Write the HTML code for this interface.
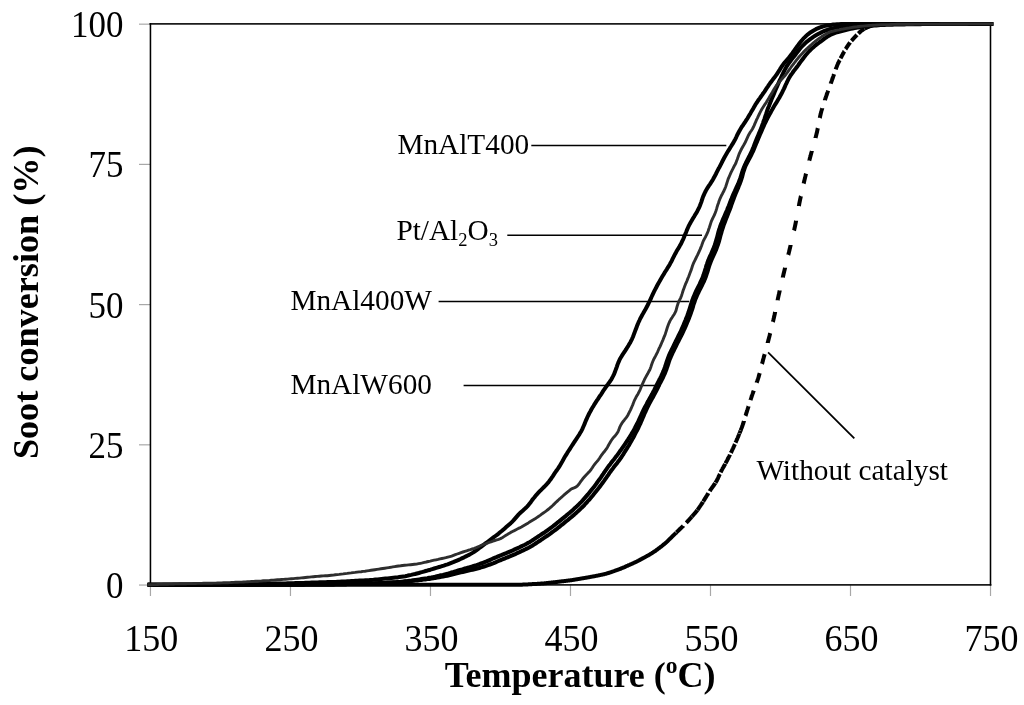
<!DOCTYPE html>
<html><head><meta charset="utf-8"><title>Soot conversion</title><style>html,body{margin:0;padding:0;background:#fff;width:1024px;height:705px;overflow:hidden}svg{display:block;filter:grayscale(100%)}</style></head><body>
<svg width="1024" height="705" viewBox="0 0 1024 705">
<rect width="1024" height="705" fill="#fff"/>
<g stroke="#a8a8a8" stroke-width="1.2"><line x1="139" y1="585.05" x2="150" y2="585.05"/><line x1="139" y1="444.83" x2="150" y2="444.83"/><line x1="139" y1="304.61" x2="150" y2="304.61"/><line x1="139" y1="164.39" x2="150" y2="164.39"/><line x1="139" y1="24.17" x2="150" y2="24.17"/><line x1="150.45" y1="585" x2="150.45" y2="596"/><line x1="290.46" y1="585" x2="290.46" y2="596"/><line x1="430.47" y1="585" x2="430.47" y2="596"/><line x1="570.48" y1="585" x2="570.48" y2="596"/><line x1="710.49" y1="585" x2="710.49" y2="596"/><line x1="850.50" y1="585" x2="850.50" y2="596"/><line x1="990.51" y1="585" x2="990.51" y2="596"/></g>
<g fill="none" stroke-linecap="square"><line x1="150.45" y1="23.86" x2="990.5" y2="23.86" stroke="#1c1c1c" stroke-width="1.75"/><line x1="150.45" y1="584.75" x2="990.5" y2="584.75" stroke="#1c1c1c" stroke-width="1.75"/><line x1="150.45" y1="23.86" x2="150.45" y2="584.75" stroke="#000" stroke-width="1.55"/><line x1="990.5" y1="23.86" x2="990.5" y2="584.75" stroke="#000" stroke-width="1.55"/></g>
<g stroke="#000" stroke-width="1.55" fill="none"><line x1="531.3" y1="145.55" x2="726.3" y2="145.55"/><line x1="507.3" y1="235.2" x2="702" y2="235.2"/><line x1="438.6" y1="301.4" x2="689.3" y2="301.4"/><line x1="463.6" y1="385.5" x2="660.8" y2="385.5"/><line x1="768.1" y1="352.3" x2="854.3" y2="438.3" stroke-width="1.75"/></g>
<g fill="none" stroke-linejoin="round" stroke-linecap="butt" stroke="#000" stroke-width="4.0">
<path d="M147.6,584.8 L148.1,584.8 L148.6,584.8 L149.1,584.8 L149.6,584.8 L150.1,584.8 L150.6,584.8 L151.1,584.8 L151.6,584.8 L152.1,584.8 L152.6,584.8 L153.1,584.8 L153.6,584.8 L154.1,584.8 L154.6,584.8 L155.1,584.8 L155.6,584.8 L156.1,584.8 L156.6,584.8 L157.1,584.8 L157.6,584.8 L158.1,584.8 L158.6,584.8 L159.1,584.8 L159.6,584.8 L160.1,584.8 L160.6,584.8 L161.1,584.8 L161.6,584.8 L162.1,584.8 L162.6,584.8 L163.1,584.8 L163.6,584.8 L164.1,584.8 L164.6,584.8 L165.1,584.8 L165.6,584.8 L166.1,584.8 L166.6,584.8 L167.1,584.8 L167.6,584.8 L168.1,584.8 L168.6,584.8 L169.1,584.8 L169.6,584.8 L170.1,584.8 L170.6,584.8 L171.1,584.8 L171.6,584.8 L172.1,584.8 L172.6,584.8 L173.1,584.8 L173.6,584.8 L174.1,584.8 L174.6,584.8 L175.1,584.8 L175.6,584.8 L176.1,584.8 L176.6,584.8 L177.1,584.8 L177.6,584.8 L178.1,584.8 L178.6,584.8 L179.1,584.8 L179.6,584.8 L180.1,584.8 L180.6,584.8 L181.1,584.8 L181.6,584.8 L182.1,584.8 L182.6,584.8 L183.1,584.8 L183.6,584.8 L184.1,584.8 L184.6,584.8 L185.1,584.8 L185.6,584.8 L186.1,584.8 L186.6,584.8 L187.1,584.8 L187.6,584.8 L188.1,584.8 L188.6,584.8 L189.1,584.8 L189.6,584.8 L190.1,584.8 L190.6,584.8 L191.1,584.8 L191.6,584.8 L192.1,584.8 L192.6,584.8 L193.1,584.8 L193.6,584.8 L194.1,584.8 L194.6,584.8 L195.1,584.8 L195.6,584.8 L196.1,584.8 L196.6,584.8 L197.1,584.8 L197.6,584.8 L198.1,584.8 L198.6,584.8 L199.1,584.8 L199.6,584.8 L200.1,584.8 L200.6,584.8 L201.1,584.8 L201.6,584.8 L202.1,584.8 L202.6,584.8 L203.1,584.8 L203.6,584.8 L204.1,584.8 L204.6,584.8 L205.1,584.8 L205.6,584.8 L206.1,584.8 L206.6,584.8 L207.1,584.8 L207.6,584.8 L208.1,584.8 L208.6,584.8 L209.1,584.8 L209.6,584.8 L210.1,584.8 L210.6,584.8 L211.1,584.8 L211.6,584.8 L212.1,584.8 L212.6,584.8 L213.1,584.8 L213.6,584.8 L214.1,584.8 L214.6,584.8 L215.1,584.8 L215.6,584.8 L216.1,584.8 L216.6,584.8 L217.1,584.8 L217.6,584.8 L218.1,584.8 L218.6,584.8 L219.1,584.8 L219.6,584.8 L220.1,584.8 L220.6,584.8 L221.1,584.8 L221.6,584.8 L222.1,584.8 L222.6,584.8 L223.1,584.8 L223.6,584.8 L224.1,584.8 L224.6,584.8 L225.1,584.8 L225.6,584.8 L226.1,584.8 L226.6,584.8 L227.1,584.8 L227.6,584.8 L228.1,584.8 L228.6,584.8 L229.1,584.8 L229.6,584.8 L230.1,584.8 L230.6,584.8 L231.1,584.8 L231.6,584.8 L232.1,584.8 L232.6,584.8 L233.1,584.8 L233.6,584.8 L234.1,584.8 L234.6,584.8 L235.1,584.8 L235.6,584.8 L236.1,584.8 L236.6,584.8 L237.1,584.8 L237.6,584.8 L238.1,584.8 L238.6,584.8 L239.1,584.8 L239.6,584.8 L240.1,584.8 L240.6,584.8 L241.1,584.8 L241.6,584.8 L242.1,584.8 L242.6,584.8 L243.1,584.8 L243.6,584.8 L244.1,584.8 L244.6,584.8 L245.1,584.8 L245.6,584.8 L246.1,584.8 L246.6,584.8 L247.1,584.8 L247.6,584.8 L248.1,584.8 L248.6,584.8 L249.1,584.8 L249.6,584.8 L250.1,584.8 L250.6,584.8 L251.1,584.8 L251.6,584.8 L252.1,584.8 L252.6,584.8 L253.1,584.8 L253.6,584.8 L254.1,584.8 L254.6,584.8 L255.1,584.8 L255.6,584.8 L256.1,584.8 L256.6,584.8 L257.1,584.8 L257.6,584.8 L258.1,584.8 L258.6,584.8 L259.1,584.8 L259.6,584.8 L260.1,584.8 L260.6,584.8 L261.1,584.8 L261.6,584.8 L262.1,584.8 L262.6,584.8 L263.1,584.8 L263.6,584.8 L264.1,584.8 L264.6,584.8 L265.1,584.8 L265.6,584.8 L266.1,584.8 L266.6,584.8 L267.1,584.8 L267.6,584.8 L268.1,584.8 L268.6,584.8 L269.1,584.8 L269.6,584.8 L270.1,584.8 L270.6,584.8 L271.1,584.8 L271.6,584.8 L272.1,584.8 L272.6,584.8 L273.1,584.8 L273.6,584.8 L274.1,584.8 L274.6,584.8 L275.1,584.8 L275.6,584.8 L276.1,584.8 L276.6,584.8 L277.1,584.8 L277.6,584.8 L278.1,584.8 L278.6,584.8 L279.1,584.8 L279.6,584.8 L280.1,584.8 L280.6,584.8 L281.1,584.8 L281.6,584.8 L282.1,584.8 L282.6,584.8 L283.1,584.8 L283.6,584.8 L284.1,584.8 L284.6,584.8 L285.1,584.8 L285.6,584.8 L286.1,584.8 L286.6,584.8 L287.1,584.8 L287.6,584.8 L288.1,584.8 L288.6,584.8 L289.1,584.8 L289.6,584.8 L290.1,584.8 L290.6,584.8 L291.1,584.8 L291.6,584.8 L292.1,584.8 L292.6,584.8 L293.1,584.8 L293.6,584.8 L294.1,584.8 L294.6,584.8 L295.1,584.8 L295.6,584.8 L296.1,584.8 L296.6,584.8 L297.1,584.8 L297.6,584.8 L298.1,584.8 L298.6,584.8 L299.1,584.8 L299.6,584.8 L300.1,584.8 L300.6,584.8 L301.1,584.8 L301.6,584.8 L302.1,584.8 L302.6,584.8 L303.1,584.8 L303.6,584.8 L304.1,584.8 L304.6,584.8 L305.1,584.8 L305.6,584.8 L306.1,584.8 L306.6,584.8 L307.1,584.8 L307.6,584.8 L308.1,584.8 L308.6,584.8 L309.1,584.8 L309.6,584.8 L310.1,584.8 L310.6,584.8 L311.1,584.8 L311.6,584.8 L312.1,584.8 L312.6,584.8 L313.1,584.8 L313.6,584.8 L314.1,584.8 L314.6,584.8 L315.1,584.8 L315.6,584.8 L316.1,584.8 L316.6,584.8 L317.1,584.8 L317.6,584.8 L318.1,584.8 L318.6,584.8 L319.1,584.8 L319.6,584.8 L320.1,584.8 L320.6,584.8 L321.1,584.8 L321.6,584.8 L322.1,584.8 L322.6,584.8 L323.1,584.8 L323.6,584.8 L324.1,584.8 L324.6,584.8 L325.1,584.8 L325.6,584.8 L326.1,584.8 L326.6,584.8 L327.1,584.8 L327.6,584.8 L328.1,584.8 L328.6,584.8 L329.1,584.8 L329.6,584.8 L330.1,584.8 L330.6,584.8 L331.1,584.8 L331.6,584.8 L332.1,584.8 L332.6,584.8 L333.1,584.8 L333.6,584.8 L334.1,584.8 L334.6,584.8 L335.1,584.8 L335.6,584.8 L336.1,584.8 L336.6,584.8 L337.1,584.8 L337.6,584.8 L338.1,584.8 L338.6,584.8 L339.1,584.8 L339.6,584.8 L340.1,584.8 L340.6,584.8 L341.1,584.8 L341.6,584.8 L342.1,584.8 L342.6,584.8 L343.1,584.8 L343.6,584.8 L344.1,584.8 L344.6,584.8 L345.1,584.8 L345.6,584.8 L346.1,584.8 L346.6,584.8 L347.1,584.8 L347.6,584.8 L348.1,584.8 L348.6,584.8 L349.1,584.8 L349.6,584.8 L350.1,584.8 L350.6,584.8 L351.1,584.8 L351.6,584.8 L352.1,584.8 L352.6,584.8 L353.1,584.8 L353.6,584.8 L354.1,584.8 L354.6,584.8 L355.1,584.8 L355.6,584.8 L356.1,584.8 L356.6,584.8 L357.1,584.8 L357.6,584.8 L358.1,584.8 L358.6,584.8 L359.1,584.8 L359.6,584.8 L360.1,584.8 L360.6,584.8 L361.1,584.8 L361.6,584.8 L362.1,584.8 L362.6,584.8 L363.1,584.8 L363.6,584.8 L364.1,584.8 L364.6,584.8 L365.1,584.8 L365.6,584.8 L366.1,584.8 L366.6,584.8 L367.1,584.8 L367.6,584.8 L368.1,584.8 L368.6,584.8 L369.1,584.8 L369.6,584.8 L370.1,584.8 L370.6,584.8 L371.1,584.8 L371.6,584.8 L372.1,584.8 L372.6,584.8 L373.1,584.8 L373.6,584.8 L374.1,584.8 L374.6,584.8 L375.1,584.8 L375.6,584.8 L376.1,584.8 L376.6,584.8 L377.1,584.8 L377.6,584.8 L378.1,584.8 L378.6,584.8 L379.1,584.8 L379.6,584.8 L380.1,584.8 L380.6,584.8 L381.1,584.8 L381.6,584.8 L382.1,584.8 L382.6,584.8 L383.1,584.8 L383.6,584.8 L384.1,584.8 L384.6,584.8 L385.1,584.8 L385.6,584.8 L386.1,584.8 L386.6,584.8 L387.1,584.8 L387.6,584.8 L388.1,584.8 L388.6,584.8 L389.1,584.8 L389.6,584.8 L390.1,584.8 L390.6,584.8 L391.1,584.8 L391.6,584.8 L392.1,584.8 L392.6,584.8 L393.1,584.8 L393.6,584.8 L394.1,584.8 L394.6,584.8 L395.1,584.8 L395.6,584.8 L396.1,584.8 L396.6,584.8 L397.1,584.8 L397.6,584.8 L398.1,584.8 L398.6,584.8 L399.1,584.8 L399.6,584.8 L400.1,584.8 L400.6,584.8 L401.1,584.8 L401.6,584.8 L402.1,584.8 L402.6,584.8 L403.1,584.8 L403.6,584.8 L404.1,584.8 L404.6,584.8 L405.1,584.8 L405.6,584.8 L406.1,584.8 L406.6,584.8 L407.1,584.8 L407.6,584.8 L408.1,584.8 L408.6,584.8 L409.1,584.8 L409.6,584.8 L410.1,584.8 L410.6,584.8 L411.1,584.8 L411.6,584.8 L412.1,584.8 L412.6,584.8 L413.1,584.8 L413.6,584.8 L414.1,584.8 L414.6,584.8 L415.1,584.8 L415.6,584.8 L416.1,584.8 L416.6,584.8 L417.1,584.8 L417.6,584.8 L418.1,584.8 L418.6,584.8 L419.1,584.8 L419.6,584.8 L420.1,584.8 L420.6,584.8 L421.1,584.8 L421.6,584.8 L422.1,584.8 L422.6,584.8 L423.1,584.8 L423.6,584.8 L424.1,584.8 L424.6,584.8 L425.1,584.8 L425.6,584.8 L426.1,584.8 L426.6,584.8 L427.1,584.8 L427.6,584.8 L428.1,584.8 L428.6,584.8 L429.1,584.8 L429.6,584.8 L430.1,584.8 L430.6,584.8 L431.1,584.8 L431.6,584.8 L432.1,584.8 L432.6,584.8 L433.1,584.8 L433.6,584.8 L434.1,584.8 L434.6,584.8 L435.1,584.8 L435.6,584.8 L436.1,584.8 L436.6,584.8 L437.1,584.8 L437.6,584.8 L438.1,584.8 L438.6,584.8 L439.1,584.8 L439.6,584.8 L440.1,584.8 L440.6,584.8 L441.1,584.8 L441.6,584.8 L442.1,584.8 L442.6,584.8 L443.1,584.8 L443.6,584.8 L444.1,584.8 L444.6,584.8 L445.1,584.8 L445.6,584.8 L446.1,584.8 L446.6,584.8 L447.1,584.8 L447.6,584.8 L448.1,584.8 L448.6,584.8 L449.1,584.8 L449.6,584.8 L450.1,584.8 L450.6,584.8 L451.1,584.8 L451.6,584.8 L452.1,584.8 L452.6,584.8 L453.1,584.8 L453.6,584.8 L454.1,584.8 L454.6,584.8 L455.1,584.8 L455.6,584.8 L456.1,584.8 L456.6,584.8 L457.1,584.8 L457.6,584.8 L458.1,584.8 L458.6,584.8 L459.1,584.8 L459.6,584.8 L460.1,584.8 L460.6,584.8 L461.1,584.8 L461.6,584.8 L462.1,584.8 L462.6,584.8 L463.1,584.8 L463.6,584.8 L464.1,584.8 L464.6,584.8 L465.1,584.8 L465.6,584.8 L466.1,584.8 L466.6,584.8 L467.1,584.8 L467.6,584.8 L468.1,584.8 L468.6,584.8 L469.1,584.8 L469.6,584.8 L470.1,584.8 L470.6,584.8 L471.1,584.8 L471.6,584.8 L472.1,584.8 L472.6,584.8 L473.1,584.8 L473.6,584.8 L474.1,584.8 L474.6,584.8 L475.1,584.8 L475.6,584.8 L476.1,584.8 L476.6,584.8 L477.1,584.8 L477.6,584.8 L478.1,584.8 L478.6,584.8 L479.1,584.8 L479.6,584.8 L480.1,584.8 L480.6,584.8 L481.1,584.8 L481.6,584.8 L482.1,584.8 L482.6,584.8 L483.1,584.8 L483.6,584.8 L484.1,584.8 L484.6,584.8 L485.1,584.8 L485.6,584.8 L486.1,584.8 L486.6,584.8 L487.1,584.8 L487.6,584.8 L488.1,584.8 L488.6,584.8 L489.1,584.8 L489.6,584.8 L490.1,584.8 L490.6,584.8 L491.1,584.8 L491.6,584.8 L492.1,584.8 L492.6,584.8 L493.1,584.8 L493.6,584.8 L494.1,584.8 L494.6,584.8 L495.1,584.8 L495.6,584.8 L496.1,584.8 L496.6,584.8 L497.1,584.8 L497.6,584.8 L498.1,584.8 L498.6,584.8 L499.1,584.8 L499.6,584.8 L500.1,584.8 L500.6,584.8 L501.1,584.8 L501.6,584.8 L502.1,584.8 L502.6,584.8 L503.1,584.8 L503.6,584.8 L504.1,584.8 L504.6,584.8 L505.1,584.8 L505.6,584.8 L506.1,584.8 L506.6,584.8 L507.1,584.8 L507.6,584.8 L508.1,584.8 L508.6,584.8 L509.1,584.8 L509.6,584.8 L510.1,584.8 L510.6,584.8 L511.1,584.8 L511.6,584.8 L512.1,584.8 L512.6,584.8 L513.1,584.8 L513.6,584.8 L514.1,584.8 L514.6,584.8 L515.1,584.8 L515.6,584.8 L516.1,584.8 L516.6,584.8 L517.1,584.8 L517.6,584.8 L518.1,584.8 L518.6,584.8 L519.1,584.8 L519.6,584.7 L520.1,584.7 L520.6,584.7 L521.1,584.7 L521.6,584.7 L522.1,584.7 L522.6,584.6 L523.1,584.6 L523.6,584.6 L524.1,584.6 L524.6,584.5 L525.1,584.5 L525.6,584.5 L526.1,584.5 L526.6,584.4 L527.1,584.4 L527.6,584.4 L528.1,584.4 L528.6,584.3 L529.1,584.3 L529.6,584.3 L530.1,584.2 L530.6,584.2 L531.1,584.2 L531.6,584.2 L532.1,584.1 L532.6,584.1 L533.1,584.1 L533.6,584.0 L534.1,584.0 L534.6,584.0 L535.1,584.0 L535.6,583.9 L536.1,583.9 L536.6,583.9 L537.1,583.9 L537.6,583.8 L538.1,583.8 L538.6,583.8 L539.1,583.7 L539.6,583.7 L540.1,583.7 L540.6,583.6 L541.1,583.6 L541.6,583.6 L542.1,583.5 L542.6,583.5 L543.1,583.5 L543.6,583.4 L544.1,583.4 L544.6,583.3 L545.1,583.3 L545.5,583.2 L546.0,583.2 L546.5,583.1 L547.0,583.1 L547.5,583.0 L548.0,583.0 L548.5,582.9 L549.0,582.8 L549.5,582.8 L550.0,582.7 L550.5,582.7 L551.0,582.6 L551.5,582.6 L552.0,582.5 L552.5,582.4 L553.0,582.4 L553.5,582.3 L554.0,582.3 L554.5,582.2 L555.0,582.2 L555.5,582.1 L556.0,582.0 L556.5,582.0 L557.0,581.9 L557.5,581.9 L558.0,581.8 L558.5,581.8 L559.0,581.7 L559.5,581.6 L560.0,581.6 L560.4,581.5 L560.9,581.5 L561.4,581.4 L561.9,581.3 L562.4,581.3 L562.9,581.2 L563.4,581.2 L563.9,581.1 L564.4,581.1 L564.9,581.0 L565.4,580.9 L565.9,580.9 L566.4,580.8 L566.9,580.8 L567.4,580.7 L567.9,580.6 L568.4,580.6 L568.9,580.5 L569.4,580.4 L569.9,580.4 L570.4,580.3 L570.9,580.2 L571.4,580.2 L571.9,580.1 L572.4,580.0 L572.8,580.0 L573.3,579.9 L573.8,579.8 L574.3,579.7 L574.8,579.6 L575.3,579.6 L575.8,579.5 L576.3,579.4 L576.8,579.3 L577.3,579.2 L577.8,579.1 L578.3,579.1 L578.8,579.0 L579.3,578.9 L579.8,578.8 L580.2,578.7 L580.7,578.6 L581.2,578.6 L581.7,578.5 L582.2,578.4 L582.7,578.3 L583.2,578.2 L583.7,578.1 L584.2,578.0 L584.7,578.0 L585.2,577.9 L585.7,577.8 L586.2,577.7 L586.7,577.6 L587.1,577.5 L587.6,577.4 L588.1,577.4 L588.6,577.3 L589.1,577.2 L589.6,577.1 L590.1,577.0 L590.6,576.9 L591.1,576.8 L591.6,576.7 L592.1,576.6 L592.6,576.5 L593.0,576.5 L593.5,576.4 L594.0,576.3 L594.5,576.2 L595.0,576.1 L595.5,576.0 L596.0,575.9 L596.5,575.8 L597.0,575.7 L597.5,575.6 L598.0,575.5 L598.4,575.4 L598.9,575.3 L599.4,575.2 L599.9,575.1 L600.4,575.0 L600.9,574.9 L601.4,574.8 L601.9,574.7 L602.4,574.6 L602.8,574.5 L603.3,574.4 L603.8,574.3 L604.3,574.2 L604.8,574.0 L605.3,573.9 L605.8,573.8 L606.2,573.7 L606.7,573.5 L607.2,573.4 L607.7,573.2 L608.2,573.1 L608.6,572.9 L609.1,572.8 L609.6,572.6 L610.0,572.5 L610.5,572.3 L611.0,572.1 L611.5,572.0 L611.9,571.8 L612.4,571.6 L612.9,571.5 L613.4,571.3 L613.8,571.1 L614.3,571.0 L614.8,570.8 L615.2,570.6 L615.7,570.5 L616.2,570.3 L616.7,570.1 L617.1,570.0 L617.6,569.8 L618.1,569.6 L618.5,569.5 L619.0,569.3 L619.5,569.1 L619.9,568.9 L620.4,568.8 L620.9,568.6 L621.3,568.4 L621.8,568.2 L622.3,568.0 L622.7,567.8 L623.2,567.6 L623.6,567.4 L624.1,567.3 L624.6,567.1 L625.0,566.9 L625.5,566.7 L625.9,566.4 L626.4,566.2 L626.9,566.0 L627.3,565.8 L627.8,565.6 L628.2,565.4 L628.7,565.2 L629.1,565.0 L629.6,564.8 L630.0,564.6 L630.5,564.4 L631.0,564.2 L631.4,564.0 L631.9,563.8 L632.3,563.6 L632.8,563.4 L633.2,563.2 L633.7,563.0 L634.1,562.8 L634.6,562.5 L635.0,562.3 L635.5,562.1 L636.0,561.9 L636.4,561.7 L636.8,561.5 L637.3,561.2 L637.7,561.0 L638.2,560.8 L638.6,560.6 L639.1,560.3 L639.5,560.1 L640.0,559.9 L640.4,559.6 L640.8,559.4 L641.3,559.1 L641.7,558.9 L642.2,558.7 L642.6,558.4 L643.0,558.2 L643.5,557.9 L643.9,557.7 L644.3,557.5 L644.8,557.2 L645.2,557.0 L645.7,556.7 L646.1,556.5 L646.5,556.3 L647.0,556.0 L647.4,555.8 L647.8,555.5 L648.3,555.3 L648.7,555.0 L649.2,554.8 L649.6,554.5 L650.0,554.3 L650.5,554.0 L650.9,553.8 L651.3,553.5 L651.7,553.3 L652.2,553.0 L652.6,552.7 L653.0,552.5 L653.4,552.2 L653.8,551.9 L654.2,551.6 L654.6,551.3 L655.1,551.1 L655.5,550.8 L655.9,550.5 L656.3,550.2 L656.7,549.9 L657.1,549.6 L657.5,549.3 L657.9,549.0 L658.3,548.7 L658.7,548.4 L659.1,548.1 L659.5,547.8 L659.9,547.5 L660.3,547.2 L660.7,546.9 L661.1,546.6 L661.5,546.3 L661.9,546.0 L662.3,545.7 L662.6,545.4 L663.0,545.1 L663.4,544.7 L663.8,544.4 L664.2,544.1 L664.6,543.8 L665.0,543.5 L665.3,543.1 L665.7,542.8 L666.1,542.5 L666.5,542.1 L666.8,541.8 L667.2,541.5 L667.6,541.1 L667.9,540.8 L668.3,540.4 L668.6,540.1 L669.0,539.7 L669.3,539.4 L669.7,539.0 L670.1,538.7 L670.4,538.3 L670.8,538.0 L671.1,537.6 L671.5,537.3 L671.8,536.9 L672.2,536.6 L672.5,536.2 L672.9,535.9 L673.3,535.5 L673.6,535.2 L674.0,534.8 L674.3,534.5 L674.7,534.1 L675.0,533.8 L675.4,533.4 L675.8,533.1 L676.1,532.7 L676.1,532.7"/>
<path d="M676.3,532.5 L676.5,532.4 L676.7,532.2 L676.8,532.0 L677.0,531.8 L677.2,531.7 L677.4,531.5 L677.6,531.3 L677.7,531.2 L677.9,531.0 L678.1,530.8 L678.3,530.6 L678.5,530.5 L678.6,530.3 L678.8,530.1 L679.0,529.9 L679.2,529.8 L679.4,529.6 L679.5,529.4 L679.7,529.3 L679.9,529.1 L680.1,528.9 L680.3,528.7 L680.5,528.6 L680.6,528.4 L680.8,528.2 L681.0,528.1 L681.2,527.9 L681.4,527.7 L681.5,527.5 L681.7,527.4 L681.9,527.2 L682.1,527.0 L682.3,526.8 L682.4,526.7 L682.6,526.5 L682.8,526.3 L683.0,526.2 L683.2,526.0 L683.3,525.8"/><path d="M686.3,522.8 L686.5,522.6 L686.7,522.4 L686.8,522.2 L687.0,522.1 L687.2,521.9 L687.3,521.7 L687.5,521.5 L687.7,521.3 L687.9,521.1 L688.0,520.9 L688.2,520.8 L688.4,520.6 L688.5,520.4 L688.7,520.2 L688.9,520.0 L689.0,519.8 L689.2,519.6 L689.4,519.5 L689.5,519.3 L689.7,519.1 L689.9,518.9 L690.0,518.7 L690.2,518.5 L690.4,518.3 L690.5,518.2 L690.7,518.0 L690.9,517.8 L691.0,517.6 L691.2,517.4 L691.4,517.2 L691.5,517.0 L691.7,516.9 L691.9,516.7"/><path d="M692.0,516.5 L692.2,516.3 L692.4,516.1 L692.5,515.9 L692.7,515.7 L692.9,515.5 L693.0,515.4 L693.2,515.2 L693.3,515.0 L693.5,514.8 L693.7,514.6 L693.8,514.4 L694.0,514.2 L694.2,514.0 L694.3,513.9 L694.5,513.7 L694.7,513.5 L694.8,513.3 L695.0,513.1 L695.1,512.9 L695.3,512.7 L695.5,512.5 L695.6,512.3 L695.8,512.1 L695.9,511.9 L696.1,511.7 L696.3,511.6 L696.4,511.4 L696.6,511.2 L696.7,511.0 L696.9,510.8 L697.0,510.6 L697.2,510.4 L697.3,510.2"/><path d="M697.5,510.0 L697.6,509.8 L697.8,509.6 L697.9,509.4 L698.1,509.2 L698.2,509.0 L698.4,508.8 L698.5,508.6 L698.6,508.4 L698.8,508.1 L698.9,507.9 L699.1,507.7 L699.2,507.5 L699.3,507.3 L699.5,507.1 L699.6,506.9 L699.8,506.7 L699.9,506.5 L700.0,506.3 L700.2,506.1 L700.3,505.9 L700.5,505.7 L700.6,505.5 L700.7,505.3 L700.9,505.0 L701.0,504.8 L701.2,504.6 L701.3,504.4 L701.4,504.2 L701.6,504.0 L701.7,503.8 L701.8,503.6 L702.0,503.4 L702.1,503.2 L702.3,503.0 L702.4,502.7 L702.5,502.5 L702.7,502.3 L702.8,502.1 L702.9,501.9"/><path d="M703.2,501.5 L703.3,501.3 L703.5,501.1 L703.6,500.8 L703.7,500.6 L703.9,500.4 L704.0,500.2 L704.1,500.0 L704.3,499.8 L704.4,499.6 L704.5,499.4 L704.7,499.1 L704.8,498.9 L704.9,498.7 L705.0,498.5 L705.2,498.3 L705.3,498.1 L705.4,497.9 L705.6,497.7 L705.7,497.4 L705.8,497.2 L706.0,497.0 L706.1,496.8 L706.2,496.6 L706.4,496.4 L706.5,496.2 L706.6,496.0 L706.8,495.7 L706.9,495.5 L707.0,495.3 L707.1,495.1 L707.3,494.9 L707.4,494.7 L707.5,494.5 L707.7,494.3 L707.8,494.0 L707.9,493.8 L708.1,493.6 L708.2,493.4 L708.3,493.2"/><path d="M709.7,491.1 L709.8,490.9 L710.0,490.7 L710.1,490.5 L710.3,490.3 L710.4,490.1 L710.5,489.9 L710.7,489.7 L710.8,489.4 L711.0,489.2 L711.1,489.0 L711.2,488.8 L711.4,488.6 L711.5,488.4 L711.7,488.2 L711.8,488.0 L712.0,487.8 L712.1,487.6 L712.3,487.4 L712.4,487.2 L712.5,487.0 L712.7,486.8 L712.8,486.6 L713.0,486.4 L713.1,486.2 L713.3,486.0 L713.4,485.8 L713.6,485.6 L713.7,485.4 L713.8,485.2 L714.0,485.0 L714.1,484.7 L714.3,484.5 L714.4,484.3 L714.6,484.1 L714.7,483.9 L714.8,483.7 L715.0,483.5 L715.1,483.3 L715.2,483.1"/><path d="M715.5,482.7 L715.6,482.5 L715.8,482.3 L715.9,482.0 L716.0,481.8 L716.2,481.6 L716.3,481.4 L716.4,481.2 L716.5,481.0 L716.7,480.8 L716.8,480.5 L716.9,480.3 L717.0,480.1 L717.1,479.9 L717.2,479.7 L717.4,479.4 L717.5,479.2 L717.6,479.0 L717.7,478.8 L717.8,478.5 L717.9,478.3 L718.0,478.1 L718.1,477.9 L718.2,477.6 L718.3,477.4 L718.4,477.2 L718.5,477.0 L718.6,476.7 L718.7,476.5 L718.8,476.3 L718.9,476.0 L719.0,475.8 L719.1,475.6 L719.2,475.4 L719.3,475.1 L719.4,474.9 L719.6,474.7 L719.7,474.4 L719.8,474.2 L719.9,474.0"/><path d="M720.6,472.4 L720.7,472.2 L720.8,472.0 L720.9,471.7 L721.0,471.5 L721.1,471.3 L721.3,471.1 L721.4,470.8 L721.5,470.6 L721.6,470.4 L721.7,470.2 L721.8,470.0 L722.0,469.7 L722.1,469.5 L722.2,469.3 L722.3,469.1 L722.4,468.9 L722.5,468.6 L722.7,468.4 L722.8,468.2 L722.9,468.0 L723.0,467.8 L723.2,467.5 L723.3,467.3 L723.4,467.1 L723.5,466.9 L723.6,466.7 L723.8,466.5 L723.9,466.2 L724.0,466.0 L724.1,465.8 L724.3,465.6 L724.4,465.4 L724.5,465.1 L724.6,464.9 L724.7,464.7 L724.9,464.5 L725.0,464.3 L725.1,464.1 L725.2,463.8"/><path d="M725.5,463.4 L725.6,463.2 L725.7,463.0 L725.8,462.7 L726.0,462.5 L726.1,462.3 L726.2,462.1 L726.3,461.9 L726.4,461.7 L726.6,461.4 L726.7,461.2 L726.8,461.0 L726.9,460.8 L727.0,460.5 L727.1,460.3 L727.3,460.1 L727.4,459.9 L727.5,459.7 L727.6,459.4 L727.7,459.2 L727.8,459.0 L727.9,458.8 L728.0,458.5 L728.2,458.3 L728.3,458.1 L728.4,457.9 L728.5,457.7 L728.6,457.4 L728.7,457.2 L728.8,457.0 L728.9,456.8 L729.1,456.5 L729.2,456.3 L729.3,456.1 L729.4,455.9 L729.5,455.6 L729.6,455.4 L729.7,455.2 L729.8,455.0 L729.9,454.7"/><path d="M730.8,452.9 L730.9,452.7 L731.0,452.5 L731.2,452.3 L731.3,452.0 L731.4,451.8 L731.5,451.6 L731.6,451.4 L731.7,451.1 L731.8,450.9 L731.9,450.7 L732.0,450.5 L732.1,450.2 L732.2,450.0 L732.3,449.8 L732.4,449.6 L732.5,449.3 L732.7,449.1 L732.8,448.9 L732.9,448.7 L733.0,448.4 L733.1,448.2 L733.2,448.0 L733.3,447.7 L733.4,447.5 L733.5,447.3 L733.6,447.1 L733.7,446.8 L733.8,446.6 L733.9,446.4 L734.0,446.1 L734.1,445.9 L734.2,445.7 L734.3,445.5 L734.4,445.2 L734.5,445.0 L734.6,444.8 L734.7,444.5 L734.8,444.3 L734.9,444.1"/><path d="M735.5,442.7 L735.6,442.5 L735.7,442.3 L735.8,442.0 L735.9,441.8 L736.0,441.6 L736.1,441.3 L736.2,441.1 L736.3,440.9 L736.4,440.7 L736.5,440.4 L736.6,440.2 L736.7,440.0 L736.8,439.7 L736.9,439.5 L737.0,439.3 L737.1,439.0 L737.2,438.8 L737.3,438.6 L737.4,438.4 L737.5,438.1 L737.6,437.9 L737.7,437.7 L737.8,437.4 L737.9,437.2 L738.0,437.0 L738.1,436.7 L738.2,436.5 L738.3,436.3 L738.4,436.1 L738.5,435.8 L738.5,435.6 L738.6,435.4 L738.7,435.1 L738.8,434.9 L738.9,434.7 L739.0,434.4 L739.1,434.2 L739.2,434.0 L739.3,433.7"/><path d="M739.5,433.3 L739.6,433.0 L739.7,432.8 L739.8,432.6 L739.9,432.4 L740.0,432.1 L740.1,431.9 L740.1,431.7 L740.2,431.4 L740.3,431.2 L740.4,431.0 L740.5,430.7"/><path d="M740.6,430.5 L740.7,430.3 L740.8,430.0 L740.9,429.8 L741.0,429.6 L741.1,429.3 L741.2,429.1 L741.2,428.9 L741.3,428.6 L741.4,428.4 L741.5,428.2 L741.6,427.9 L741.7,427.7 L741.8,427.5 L741.9,427.2 L742.0,427.0 L742.0,426.8 L742.1,426.5 L742.2,426.3 L742.3,426.1 L742.4,425.8 L742.5,425.6 L742.5,425.4 L742.6,425.1 L742.7,424.9 L742.8,424.6 L742.9,424.4 L742.9,424.2 L743.0,423.9 L743.1,423.7 L743.2,423.5 L743.3,423.2 L743.3,423.0 L743.4,422.7 L743.5,422.5 L743.6,422.3 L743.6,422.0 L743.7,421.8 L743.8,421.5 L743.9,421.3 L743.9,421.1"/><path d="M745.5,415.8 L745.6,415.6 L745.7,415.3 L745.8,415.1 L745.8,414.9 L745.9,414.6 L746.0,414.4 L746.0,414.1 L746.1,413.9 L746.2,413.7 L746.3,413.4 L746.3,413.2 L746.4,412.9 L746.5,412.7 L746.6,412.5 L746.6,412.2 L746.7,412.0 L746.8,411.7 L746.9,411.5 L746.9,411.3 L747.0,411.0 L747.1,410.8 L747.2,410.6 L747.2,410.3 L747.3,410.1 L747.4,409.8 L747.5,409.6 L747.5,409.4 L747.6,409.1 L747.7,408.9 L747.8,408.6 L747.8,408.4 L747.9,408.2 L748.0,407.9 L748.1,407.7 L748.1,407.5 L748.2,407.2 L748.3,407.0 L748.4,406.7 L748.4,406.5 L748.5,406.3"/><path d="M750.5,400.1 L750.6,399.8 L750.6,399.6 L750.7,399.4 L750.8,399.1 L750.9,398.9 L750.9,398.6 L751.0,398.4 L751.1,398.2 L751.2,397.9 L751.3,397.7 L751.3,397.5 L751.4,397.2 L751.5,397.0 L751.6,396.7 L751.6,396.5 L751.7,396.3 L751.8,396.0 L751.9,395.8 L752.0,395.6 L752.0,395.3 L752.1,395.1 L752.2,394.9 L752.3,394.6 L752.4,394.4 L752.5,394.1 L752.5,393.9 L752.6,393.7 L752.7,393.4 L752.8,393.2 L752.9,393.0 L753.0,392.7 L753.0,392.5 L753.1,392.3 L753.2,392.0 L753.3,391.8 L753.4,391.6 L753.5,391.3 L753.6,391.1 L753.6,390.9 L753.7,390.6"/><path d="M756.7,382.6 L756.8,382.4 L756.8,382.2 L756.9,381.9 L757.0,381.7 L757.1,381.5 L757.2,381.2 L757.3,381.0 L757.4,380.8 L757.4,380.5 L757.5,380.3 L757.6,380.1 L757.7,379.8 L757.8,379.6 L757.8,379.3 L757.9,379.1 L758.0,378.9 L758.1,378.6 L758.1,378.4 L758.2,378.2 L758.3,377.9 L758.4,377.7 L758.4,377.4 L758.5,377.2 L758.6,377.0 L758.7,376.7 L758.7,376.5 L758.8,376.2 L758.9,376.0 L758.9,375.8 L759.0,375.5 L759.1,375.3 L759.1,375.0 L759.2,374.8 L759.3,374.6 L759.3,374.3 L759.4,374.1 L759.5,373.8 L759.5,373.6 L759.6,373.4 L759.7,373.1"/><path d="M762.0,363.9 L762.1,363.7 L762.2,363.4 L762.2,363.2 L762.3,362.9 L762.3,362.7 L762.4,362.5 L762.5,362.2 L762.5,362.0 L762.6,361.7 L762.7,361.5 L762.7,361.3 L762.8,361.0 L762.9,360.8 L762.9,360.5 L763.0,360.3 L763.0,360.0 L763.1,359.8 L763.2,359.6 L763.2,359.3 L763.3,359.1 L763.4,358.8 L763.4,358.6 L763.5,358.4 L763.6,358.1 L763.6,357.9 L763.7,357.6 L763.7,357.4 L763.8,357.1 L763.9,356.9 L763.9,356.7 L764.0,356.4 L764.1,356.2 L764.1,355.9 L764.2,355.7 L764.3,355.5 L764.3,355.2 L764.4,355.0 L764.5,354.7 L764.5,354.5 L764.6,354.2"/><path d="M767.7,342.9 L767.7,342.7 L767.8,342.4 L767.9,342.2 L767.9,341.9 L768.0,341.7 L768.1,341.5 L768.1,341.2 L768.2,341.0 L768.3,340.7 L768.3,340.5 L768.4,340.2 L768.4,340.0 L768.5,339.8 L768.6,339.5 L768.6,339.3 L768.7,339.0 L768.8,338.8 L768.8,338.6 L768.9,338.3 L768.9,338.1 L769.0,337.8 L769.1,337.6 L769.1,337.3 L769.2,337.1 L769.3,336.9 L769.3,336.6 L769.4,336.4 L769.4,336.1 L769.5,335.9 L769.6,335.6 L769.6,335.4 L769.7,335.2 L769.7,334.9 L769.8,334.7 L769.9,334.4 L769.9,334.2 L770.0,334.0 L770.0,333.7 L770.1,333.5 L770.2,333.2"/><path d="M772.9,321.8 L773.0,321.6 L773.0,321.3 L773.1,321.1 L773.2,320.8 L773.2,320.6 L773.3,320.3 L773.3,320.1 L773.4,319.9 L773.5,319.6 L773.5,319.4 L773.6,319.1 L773.6,318.9 L773.7,318.6 L773.7,318.4 L773.8,318.2 L773.9,317.9 L773.9,317.7 L774.0,317.4 L774.0,317.2 L774.1,316.9 L774.1,316.7 L774.2,316.4 L774.2,316.2 L774.3,316.0 L774.3,315.7 L774.4,315.5 L774.5,315.2 L774.5,315.0 L774.6,314.7 L774.6,314.5 L774.7,314.3 L774.7,314.0 L774.8,313.8 L774.8,313.5 L774.9,313.3 L774.9,313.0 L775.0,312.8 L775.0,312.5 L775.1,312.3 L775.1,312.0"/><path d="M777.6,300.3 L777.6,300.1 L777.7,299.8 L777.7,299.6 L777.8,299.3 L777.8,299.1 L777.9,298.8 L777.9,298.6 L778.0,298.3 L778.0,298.1 L778.1,297.9 L778.1,297.6 L778.2,297.4 L778.3,297.1 L778.3,296.9 L778.4,296.6 L778.4,296.4 L778.5,296.1 L778.5,295.9 L778.6,295.7 L778.6,295.4 L778.7,295.2 L778.7,294.9 L778.8,294.7 L778.8,294.4 L778.9,294.2 L779.0,293.9 L779.0,293.7 L779.1,293.5 L779.1,293.2 L779.2,293.0 L779.2,292.7 L779.3,292.5 L779.3,292.2 L779.4,292.0 L779.5,291.8 L779.5,291.5 L779.6,291.3 L779.6,291.0 L779.7,290.8 L779.7,290.5"/><path d="M782.8,277.4 L782.8,277.1 L782.9,276.9 L783.0,276.7 L783.0,276.4 L783.1,276.2 L783.1,275.9 L783.2,275.7 L783.2,275.4 L783.3,275.2 L783.4,275.0 L783.4,274.7 L783.5,274.5 L783.5,274.2 L783.6,274.0 L783.6,273.7 L783.7,273.5 L783.8,273.3 L783.8,273.0 L783.9,272.8 L783.9,272.5 L784.0,272.3 L784.1,272.0 L784.1,271.8 L784.2,271.5 L784.2,271.3 L784.3,271.1 L784.3,270.8 L784.4,270.6 L784.5,270.3 L784.5,270.1 L784.6,269.8 L784.6,269.6 L784.7,269.4 L784.8,269.1 L784.8,268.9 L784.9,268.6 L784.9,268.4 L785.0,268.2 L785.1,267.9 L785.1,267.7"/><path d="M788.3,254.8 L788.4,254.6 L788.4,254.3 L788.5,254.1 L788.5,253.8 L788.6,253.6 L788.7,253.3 L788.7,253.1 L788.8,252.9 L788.8,252.6 L788.9,252.4 L789.0,252.1 L789.0,251.9 L789.1,251.6 L789.1,251.4 L789.2,251.2 L789.3,250.9 L789.3,250.7 L789.4,250.4 L789.4,250.2 L789.5,249.9 L789.6,249.7 L789.6,249.5 L789.7,249.2 L789.7,249.0 L789.8,248.7 L789.8,248.5 L789.9,248.2 L790.0,248.0 L790.0,247.8 L790.1,247.5 L790.1,247.3 L790.2,247.0 L790.2,246.8 L790.3,246.5 L790.4,246.3 L790.4,246.1 L790.5,245.8 L790.5,245.6 L790.6,245.3 L790.6,245.1"/><path d="M794.0,230.5 L794.1,230.2 L794.2,230.0 L794.2,229.7 L794.3,229.5 L794.3,229.3 L794.4,229.0 L794.4,228.8 L794.5,228.5 L794.5,228.3 L794.6,228.0 L794.7,227.8 L794.7,227.5 L794.8,227.3 L794.8,227.1 L794.9,226.8 L794.9,226.6 L795.0,226.3 L795.0,226.1 L795.1,225.8 L795.1,225.6 L795.2,225.3 L795.2,225.1 L795.3,224.9 L795.3,224.6 L795.4,224.4 L795.4,224.1 L795.5,223.9 L795.5,223.6 L795.6,223.4 L795.6,223.1 L795.7,222.9 L795.7,222.7 L795.8,222.4 L795.8,222.2 L795.9,221.9 L795.9,221.7 L796.0,221.4 L796.0,221.2 L796.1,220.9 L796.1,220.7"/><path d="M798.9,205.9 L798.9,205.7 L799.0,205.5 L799.0,205.2 L799.1,205.0 L799.1,204.7 L799.2,204.5 L799.2,204.2 L799.2,204.0 L799.3,203.7 L799.3,203.5 L799.4,203.2 L799.4,203.0 L799.5,202.8 L799.5,202.5 L799.6,202.3 L799.6,202.0 L799.7,201.8 L799.7,201.5 L799.8,201.3 L799.8,201.0 L799.9,200.8 L799.9,200.5 L800.0,200.3 L800.0,200.1 L800.1,199.8 L800.1,199.6 L800.2,199.3 L800.2,199.1 L800.3,198.8 L800.3,198.6 L800.4,198.3 L800.5,198.1 L800.5,197.9 L800.6,197.6 L800.6,197.4 L800.7,197.1 L800.7,196.9 L800.8,196.6 L800.8,196.4 L800.9,196.2"/><path d="M803.7,183.5 L803.8,183.2 L803.8,183.0 L803.9,182.7 L803.9,182.5 L804.0,182.2 L804.0,182.0 L804.1,181.8 L804.1,181.5 L804.2,181.3 L804.2,181.0 L804.3,180.8 L804.4,180.5 L804.4,180.3 L804.5,180.0 L804.5,179.8 L804.6,179.6 L804.6,179.3 L804.7,179.1 L804.8,178.8 L804.8,178.6 L804.9,178.3 L804.9,178.1 L805.0,177.9 L805.0,177.6 L805.1,177.4 L805.2,177.1 L805.2,176.9 L805.3,176.6 L805.3,176.4 L805.4,176.2 L805.5,175.9 L805.5,175.7 L805.6,175.4 L805.6,175.2 L805.7,174.9 L805.8,174.7 L805.8,174.5 L805.9,174.2 L805.9,174.0 L806.0,173.7"/><path d="M809.3,160.6 L809.3,160.4 L809.4,160.2 L809.5,159.9 L809.5,159.7 L809.6,159.4 L809.7,159.2 L809.7,158.9 L809.8,158.7 L809.8,158.5 L809.9,158.2 L810.0,158.0 L810.0,157.7 L810.1,157.5 L810.2,157.2 L810.2,157.0 L810.3,156.8 L810.3,156.5 L810.4,156.3 L810.5,156.0 L810.5,155.8 L810.6,155.6 L810.7,155.3 L810.7,155.1 L810.8,154.8 L810.9,154.6 L810.9,154.3 L811.0,154.1 L811.1,153.9 L811.1,153.6 L811.2,153.4 L811.2,153.1 L811.3,152.9 L811.4,152.7 L811.4,152.4 L811.5,152.2 L811.6,151.9 L811.6,151.7 L811.7,151.5 L811.8,151.2 L811.8,151.0"/><path d="M815.5,138.0 L815.5,137.7 L815.6,137.5 L815.7,137.2 L815.7,137.0 L815.8,136.8 L815.9,136.5 L815.9,136.3 L816.0,136.0 L816.1,135.8 L816.1,135.6 L816.2,135.3 L816.2,135.1 L816.3,134.8 L816.4,134.6 L816.4,134.3 L816.5,134.1 L816.5,133.9 L816.6,133.6 L816.7,133.4 L816.7,133.1 L816.8,132.9 L816.8,132.6 L816.9,132.4 L817.0,132.2 L817.0,131.9 L817.1,131.7 L817.1,131.4 L817.2,131.2 L817.2,130.9 L817.3,130.7 L817.3,130.4 L817.4,130.2 L817.4,130.0 L817.5,129.7 L817.5,129.5 L817.6,129.2 L817.6,129.0 L817.7,128.7 L817.7,128.5 L817.8,128.2"/><path d="M819.8,117.9 L819.9,117.7 L819.9,117.5 L820.0,117.2 L820.0,117.0 L820.1,116.7 L820.1,116.5 L820.2,116.2 L820.2,116.0 L820.3,115.7 L820.3,115.5 L820.4,115.3 L820.4,115.0 L820.5,114.8 L820.5,114.5 L820.6,114.3 L820.6,114.0 L820.7,113.8 L820.8,113.5 L820.8,113.3 L820.9,113.1 L820.9,112.8 L821.0,112.6 L821.1,112.3 L821.1,112.1 L821.2,111.9 L821.2,111.6 L821.3,111.4 L821.4,111.1 L821.4,110.9 L821.5,110.6 L821.6,110.4 L821.7,110.2 L821.7,109.9 L821.8,109.7 L821.9,109.4 L821.9,109.2 L822.0,109.0 L822.1,108.7 L822.2,108.5 L822.2,108.3"/><path d="M824.9,100.2 L824.9,99.9 L825.0,99.7 L825.1,99.5 L825.2,99.2 L825.2,99.0 L825.3,98.7 L825.4,98.5 L825.5,98.3 L825.6,98.0 L825.6,97.8 L825.7,97.6 L825.8,97.3 L825.9,97.1 L826.0,96.8 L826.0,96.6 L826.1,96.4 L826.2,96.1 L826.3,95.9 L826.4,95.7 L826.4,95.4 L826.5,95.2 L826.6,95.0 L826.7,94.7 L826.8,94.5 L826.8,94.2 L826.9,94.0 L827.0,93.8 L827.1,93.5 L827.2,93.3 L827.3,93.1 L827.3,92.8 L827.4,92.6 L827.5,92.4 L827.6,92.1 L827.7,91.9 L827.8,91.7 L827.9,91.4 L827.9,91.2 L828.0,91.0 L828.1,90.7"/><path d="M830.7,83.7 L830.8,83.4 L830.8,83.2 L830.9,83.0 L831.0,82.7 L831.1,82.5 L831.2,82.3 L831.3,82.0 L831.4,81.8 L831.4,81.6 L831.5,81.3 L831.6,81.1 L831.7,80.8 L831.8,80.6 L831.9,80.4 L831.9,80.1 L832.0,79.9 L832.1,79.7 L832.2,79.4 L832.3,79.2 L832.4,79.0 L832.4,78.7 L832.5,78.5 L832.6,78.3 L832.7,78.0 L832.8,77.8 L832.9,77.5 L832.9,77.3 L833.0,77.1 L833.1,76.8 L833.2,76.6 L833.3,76.4 L833.4,76.1 L833.4,75.9 L833.5,75.7 L833.6,75.4 L833.7,75.2 L833.8,75.0 L833.8,74.7 L833.9,74.5 L834.0,74.2"/><path d="M835.7,69.3 L835.8,69.0 L835.9,68.8 L836.0,68.6 L836.1,68.3 L836.2,68.1 L836.2,67.9 L836.3,67.6 L836.4,67.4 L836.5,67.2 L836.6,66.9 L836.7,66.7 L836.8,66.5 L836.9,66.2 L836.9,66.0 L837.0,65.8 L837.1,65.5 L837.2,65.3 L837.3,65.1 L837.4,64.9 L837.5,64.6 L837.6,64.4 L837.7,64.2 L837.8,63.9 L837.9,63.7 L838.0,63.5 L838.1,63.3 L838.2,63.0 L838.3,62.8 L838.4,62.6 L838.6,62.4 L838.7,62.1 L838.8,61.9 L838.9,61.7 L839.0,61.5 L839.1,61.2 L839.2,61.0 L839.3,60.8 L839.4,60.6 L839.5,60.3 L839.7,60.1"/><path d="M840.6,58.3 L840.7,58.1 L840.8,57.9 L840.9,57.7 L841.0,57.4 L841.1,57.2 L841.3,57.0 L841.4,56.8 L841.5,56.6 L841.6,56.3 L841.7,56.1 L841.8,55.9 L842.0,55.7 L842.1,55.5 L842.2,55.2 L842.3,55.0 L842.4,54.8 L842.5,54.6 L842.7,54.4 L842.8,54.1 L842.9,53.9 L843.0,53.7 L843.1,53.5 L843.3,53.3 L843.4,53.0 L843.5,52.8 L843.6,52.6 L843.8,52.4 L843.9,52.2 L844.0,52.0 L844.1,51.7 L844.2,51.5 L844.4,51.3"/><path d="M845.6,49.1 L845.8,48.9 L845.9,48.7 L846.0,48.5 L846.1,48.3 L846.3,48.1 L846.4,47.9 L846.5,47.6 L846.7,47.4 L846.8,47.2 L846.9,47.0 L847.1,46.8 L847.2,46.6 L847.3,46.4 L847.5,46.2 L847.6,46.0 L847.8,45.8 L847.9,45.6 L848.0,45.3 L848.2,45.1 L848.3,44.9 L848.5,44.7 L848.6,44.5 L848.8,44.3 L848.9,44.1 L849.0,43.9 L849.2,43.7 L849.3,43.5 L849.5,43.3 L849.7,43.1 L849.8,42.9 L850.0,42.7 L850.1,42.5"/><path d="M851.5,40.8 L851.7,40.6 L851.9,40.4 L852.0,40.2 L852.2,40.1 L852.4,39.9 L852.5,39.7 L852.7,39.5 L852.8,39.3 L853.0,39.1 L853.2,38.9 L853.3,38.7 L853.5,38.6 L853.7,38.4 L853.8,38.2 L854.0,38.0 L854.2,37.8 L854.3,37.6 L854.5,37.4 L854.7,37.3 L854.9,37.1 L855.0,36.9 L855.2,36.7 L855.4,36.5 L855.5,36.3 L855.7,36.2 L855.9,36.0 L856.1,35.8 L856.2,35.6 L856.4,35.4 L856.6,35.3 L856.7,35.1 L856.9,34.9"/><path d="M858.3,33.5 L858.5,33.3 L858.7,33.1 L858.9,33.0 L859.1,32.8 L859.2,32.6 L859.4,32.5 L859.6,32.3 L859.8,32.1 L860.0,32.0 L860.2,31.8 L860.3,31.6 L860.5,31.5 L860.7,31.3 L860.9,31.2 L861.1,31.0 L861.3,30.8 L861.5,30.7 L861.7,30.5 L861.9,30.4 L862.1,30.3 L862.3,30.1 L862.5,30.0 L862.7,29.8 L862.9,29.7 L863.1,29.6 L863.3,29.4 L863.5,29.3 L863.7,29.2 L864.0,29.0 L864.2,28.9 L864.4,28.8"/><path d="M864.6,28.7 L864.8,28.6 L865.0,28.4 L865.3,28.3 L865.5,28.2 L865.7,28.1 L865.9,28.0 L866.1,27.9 L866.4,27.8 L866.6,27.7 L866.8,27.6 L867.0,27.4 L867.3,27.3 L867.5,27.2 L867.7,27.1 L867.9,27.0 L868.2,27.0 L868.4,26.9 L868.6,26.8 L868.9,26.7 L869.1,26.6 L869.3,26.5 L869.6,26.4 L869.8,26.3 L870.0,26.3 L870.3,26.2 L870.5,26.1 L870.7,26.0 L871.0,25.9 L871.2,25.9 L871.5,25.8 L871.7,25.7 L871.9,25.7"/>
<path d="M874.1,25.1 L874.6,25.0 L875.1,24.9 L875.6,24.8 L876.1,24.7 L876.6,24.7 L877.0,24.6 L877.5,24.5 L878.0,24.5 L878.5,24.4 L879.0,24.4 L879.5,24.3 L880.0,24.3 L880.5,24.3 L881.0,24.2 L881.5,24.2 L882.0,24.2 L882.5,24.2 L883.0,24.1 L883.5,24.1 L884.0,24.1 L884.5,24.1 L885.0,24.1 L885.5,24.1 L886.0,24.0 L886.5,24.0 L887.0,24.0 L887.5,24.0 L888.0,24.0 L888.5,24.0 L889.0,24.0 L889.5,24.0 L890.0,24.0 L890.5,24.0 L891.0,24.0 L891.5,24.0 L892.0,24.0 L892.5,24.0 L893.0,24.0 L893.5,24.0 L894.0,24.0 L894.5,24.0 L895.0,24.0 L895.5,24.0 L896.0,24.0 L896.5,24.0 L897.0,24.0 L897.5,24.0 L898.0,24.0 L898.5,24.0 L899.0,24.0 L899.5,24.0 L900.0,24.0 L900.5,24.0 L901.0,24.0 L901.5,24.0 L902.0,24.0 L902.5,24.0 L903.0,24.0 L903.5,24.0 L904.0,24.0 L904.5,24.0 L905.0,24.0 L905.5,24.0 L906.0,24.0 L906.5,24.0 L907.0,24.0 L907.5,24.0 L908.0,24.0 L908.5,24.0 L909.0,24.0 L909.5,24.0 L910.0,24.0 L910.5,24.0 L911.0,24.0 L911.5,24.0 L912.0,24.0 L912.5,24.0 L913.0,24.0 L913.5,24.0 L914.0,24.0 L914.5,24.0 L915.0,24.0 L915.5,24.0 L916.0,24.0 L916.5,24.0 L917.0,24.0 L917.5,24.0 L918.0,24.0 L918.5,24.0 L919.0,24.0 L919.5,24.0 L920.0,24.0 L920.5,24.0 L921.0,24.0 L921.5,23.9 L922.0,23.9 L922.5,23.9 L923.0,23.9 L923.5,23.9 L924.0,23.9 L924.5,23.9 L925.0,23.9 L925.5,23.9 L926.0,23.9 L926.5,23.9 L927.0,23.9 L927.5,23.9 L928.0,23.9 L928.5,23.9 L929.0,23.9 L929.5,23.9 L930.0,23.9 L930.5,23.9 L931.0,23.9 L931.5,23.9 L932.0,23.9 L932.5,23.9 L933.0,23.9 L933.5,23.9 L934.0,23.9 L934.5,23.9 L935.0,23.9 L935.5,23.9 L936.0,23.9 L936.5,23.9 L937.0,23.9 L937.5,23.9 L938.0,23.9 L938.5,23.9 L939.0,23.9 L939.5,23.9 L940.0,23.9 L940.5,23.9 L941.0,23.9 L941.5,23.9 L942.0,23.9 L942.5,23.9 L943.0,23.9 L943.5,23.9 L944.0,23.9 L944.5,23.9 L945.0,23.9 L945.5,23.9 L946.0,23.9 L946.5,23.9 L947.0,23.9 L947.5,23.9 L948.0,23.9 L948.5,23.9 L949.0,23.9 L949.5,23.9 L950.0,23.9 L950.5,23.9 L951.0,23.9 L951.5,23.9 L952.0,23.9 L952.5,23.9 L953.0,23.9 L953.5,23.9 L954.0,23.9 L954.5,23.9 L955.0,23.9 L955.5,23.9 L956.0,23.9 L956.5,23.9 L957.0,23.9 L957.5,23.9 L958.0,23.9 L958.5,23.9 L959.0,23.9 L959.5,23.9 L960.0,23.9 L960.5,23.9 L961.0,23.9 L961.5,23.9 L962.0,23.9 L962.5,23.9 L963.0,23.9 L963.5,23.9 L964.0,23.9 L964.5,23.9 L965.0,23.9 L965.5,23.9 L966.0,23.9 L966.5,23.9 L967.0,23.9 L967.5,23.9 L968.0,23.9 L968.5,23.9 L969.0,23.9 L969.5,23.9 L970.0,23.9 L970.5,23.9 L971.0,23.9 L971.5,23.9 L972.0,23.9 L972.5,23.9 L973.0,23.9 L973.5,23.9 L974.0,23.9 L974.5,23.9 L975.0,23.9 L975.5,23.9 L976.0,23.9 L976.5,23.9 L977.0,23.9 L977.5,23.9 L978.0,23.9 L978.5,23.9 L979.0,23.9 L979.5,23.9 L980.0,23.9 L980.5,23.9 L981.0,23.9 L981.5,23.9 L982.0,23.9 L982.5,23.9 L983.0,23.9 L983.5,23.9 L984.0,23.9 L984.5,23.9 L985.0,23.9 L985.5,23.9 L986.0,23.9 L986.5,23.9 L987.0,23.9 L987.5,23.9 L988.0,23.9 L988.5,23.9 L989.0,23.9 L989.5,23.9 L990.0,23.9 L990.5,23.9 L990.9,23.9 L991.4,23.9 L991.9,23.9 L992.3,23.9 L992.8,23.9 L993.2,23.9 L993.4,23.9"/>
<path d="M147.6,584.8 L149.6,584.8 L151.6,584.8 L153.6,584.8 L155.6,584.8 L157.6,584.8 L159.6,584.8 L161.6,584.8 L163.6,584.8 L165.6,584.8 L167.6,584.8 L169.6,584.8 L171.6,584.8 L173.6,584.8 L175.6,584.8 L177.6,584.8 L179.6,584.8 L181.6,584.8 L183.6,584.8 L185.6,584.8 L187.6,584.8 L189.6,584.8 L191.6,584.8 L193.6,584.8 L195.6,584.8 L197.6,584.8 L199.6,584.8 L201.6,584.8 L203.6,584.8 L205.6,584.8 L207.6,584.8 L209.6,584.8 L211.6,584.8 L213.6,584.8 L215.6,584.8 L217.6,584.8 L219.6,584.8 L221.6,584.8 L223.6,584.8 L225.6,584.7 L227.6,584.7 L229.6,584.7 L231.6,584.7 L233.6,584.7 L235.6,584.7 L237.6,584.7 L239.6,584.7 L241.6,584.7 L243.6,584.7 L245.6,584.7 L247.6,584.7 L249.6,584.7 L251.6,584.7 L253.6,584.7 L255.6,584.7 L257.6,584.7 L259.6,584.7 L261.6,584.7 L263.6,584.7 L265.6,584.7 L267.6,584.7 L269.6,584.7 L271.6,584.7 L273.6,584.7 L275.6,584.7 L277.6,584.7 L279.6,584.7 L281.6,584.7 L283.6,584.7 L285.6,584.7 L287.6,584.7 L289.6,584.7 L291.6,584.7 L293.6,584.7 L295.6,584.7 L297.6,584.7 L299.6,584.7 L301.6,584.7 L303.6,584.7 L305.6,584.6 L307.6,584.6 L309.6,584.6 L311.6,584.6 L313.6,584.6 L315.6,584.5 L317.6,584.5 L319.6,584.5 L321.6,584.5 L323.6,584.5 L325.6,584.4 L327.6,584.4 L329.6,584.4 L331.6,584.4 L333.6,584.4 L335.6,584.3 L337.6,584.3 L339.6,584.3 L341.6,584.2 L343.6,584.2 L345.6,584.2 L347.6,584.1 L349.6,584.1 L351.6,584.0 L353.6,584.0 L355.6,583.9 L357.6,583.9 L359.6,583.8 L361.6,583.8 L363.6,583.7 L365.6,583.7 L367.6,583.6 L369.6,583.6 L371.6,583.5 L373.6,583.4 L375.6,583.3 L377.6,583.2 L379.6,583.1 L381.6,583.0 L383.6,582.9 L385.6,582.8 L387.6,582.7 L389.6,582.6 L391.6,582.5 L393.6,582.3 L395.5,582.2 L397.5,582.0 L399.5,581.9 L401.5,581.7 L403.5,581.5 L405.5,581.3 L407.5,581.1 L409.5,580.8 L411.5,580.6 L413.4,580.3 L415.4,580.0 L417.4,579.7 L419.4,579.4 L421.3,579.1 L423.3,578.8 L425.3,578.5 L427.3,578.2 L429.2,577.8 L431.2,577.5 L433.1,577.1 L435.1,576.7 L437.0,576.2 L439.0,575.8 L440.9,575.3 L442.9,574.9 L444.8,574.4 L446.7,573.9 L448.6,573.4 L450.6,572.8 L452.5,572.3 L454.4,571.7 L456.3,571.1 L458.2,570.5 L460.1,569.9 L462.1,569.4 L464.0,568.8 L465.9,568.3 L467.8,567.7 L469.7,567.2 L471.7,566.6 L473.6,566.0 L475.5,565.5 L477.3,564.8 L479.2,564.2 L481.1,563.5 L482.9,562.8 L484.7,562.1 L486.5,561.4 L488.4,560.6 L490.2,559.8 L492.0,559.0 L493.8,558.2 L495.7,557.5 L497.5,556.7 L499.4,555.9 L501.2,555.2 L503.1,554.4 L504.9,553.6 L506.8,552.9 L508.6,552.1 L510.4,551.3 L512.3,550.6 L514.1,549.7 L515.9,548.9 L517.7,548.1 L519.5,547.3 L521.3,546.4 L523.1,545.5 L524.8,544.7 L526.6,543.8 L528.3,542.8 L530.0,541.9 L531.6,540.9 L533.3,539.8 L534.9,538.7 L536.5,537.6 L538.2,536.5 L539.9,535.4 L541.5,534.3 L543.2,533.2 L544.9,532.1 L546.5,531.0 L548.1,529.8 L549.7,528.7 L551.3,527.5 L552.9,526.3 L554.4,525.1 L556.0,523.9 L557.5,522.6 L559.1,521.4 L560.7,520.1 L562.2,518.9 L563.8,517.6 L565.3,516.4 L566.8,515.1 L568.4,513.8 L569.9,512.6 L571.4,511.3 L572.9,510.0 L574.3,508.6 L575.8,507.3 L577.2,506.0 L578.6,504.6 L580.0,503.2 L581.4,501.8 L582.7,500.4 L584.0,498.9 L585.3,497.4 L586.6,495.9 L587.9,494.4 L589.1,492.9 L590.4,491.3 L591.6,489.8 L592.9,488.2 L594.1,486.7 L595.3,485.1 L596.5,483.5 L597.6,481.9 L598.8,480.3 L600.0,478.7 L601.1,477.1 L602.2,475.4 L603.3,473.8 L604.4,472.1 L605.6,470.5 L606.7,468.8 L607.9,467.1 L609.1,465.5 L610.4,463.9 L611.6,462.3 L612.8,460.7 L614.1,459.2 L615.3,457.6 L616.5,456.1 L617.6,454.6 L618.8,453.0 L619.9,451.3 L621.1,449.7 L622.2,448.1 L623.4,446.4 L624.5,444.8 L625.6,443.2 L626.7,441.5 L627.8,439.9 L628.9,438.2 L629.9,436.5 L631.0,434.8 L632.0,433.1 L633.0,431.4 L634.0,429.7 L634.9,428.0 L635.8,426.2 L636.7,424.4 L637.6,422.7 L638.5,420.9 L639.3,419.1 L640.1,417.3 L641.0,415.4 L641.8,413.6 L642.6,411.8 L643.5,410.0 L644.4,408.2 L645.3,406.4 L646.3,404.6 L647.2,402.8 L648.2,401.1 L649.2,399.3 L650.2,397.6 L651.1,395.8 L652.1,394.1 L653.0,392.3 L653.9,390.6 L654.8,388.8 L655.7,387.0 L656.6,385.2 L657.5,383.4 L658.4,381.6 L659.3,379.8 L660.2,378.1 L661.1,376.3 L661.9,374.5 L662.7,372.7 L663.5,370.9 L664.2,369.1 L664.9,367.2 L665.5,365.4 L666.1,363.5 L666.7,361.6 L667.4,359.6 L668.1,357.8 L668.8,355.9 L669.6,354.0 L670.5,352.2 L671.3,350.4 L672.2,348.6 L673.1,346.8 L674.0,345.0 L674.9,343.2 L675.7,341.4 L676.6,339.6 L677.5,337.8 L678.4,336.0 L679.3,334.2 L680.2,332.5 L681.0,330.7 L681.8,328.8 L682.6,327.0 L683.4,325.2 L684.2,323.4 L684.9,321.5 L685.7,319.7 L686.4,317.8 L687.2,316.0 L687.8,314.1 L688.5,312.3 L689.1,310.4 L689.7,308.5 L690.3,306.6 L690.9,304.7 L691.5,302.8 L692.1,300.8 L692.8,298.9 L693.5,297.0 L694.3,295.2 L695.1,293.3 L695.9,291.5 L696.8,289.7 L697.7,287.9 L698.6,286.1 L699.5,284.3 L700.3,282.5 L701.2,280.7 L702.0,278.9 L702.7,277.1 L703.4,275.3 L704.0,273.4 L704.6,271.6 L705.2,269.7 L705.8,267.7 L706.3,265.8 L707.0,263.9 L707.6,262.0 L708.4,260.1 L709.1,258.2 L709.9,256.4 L710.8,254.5 L711.6,252.7 L712.4,250.9 L713.2,249.1 L713.9,247.3 L714.6,245.4 L715.2,243.6 L715.8,241.7 L716.3,239.8 L716.9,237.9 L717.4,236.0 L717.9,234.1 L718.4,232.1 L718.9,230.2 L719.6,228.2 L720.2,226.3 L720.9,224.4 L721.7,222.5 L722.4,220.7 L723.2,218.8 L724.0,217.0 L724.8,215.2 L725.6,213.3 L726.4,211.5 L727.2,209.7 L727.9,207.8 L728.7,206.0 L729.4,204.1 L730.1,202.2 L730.8,200.4 L731.6,198.5 L732.3,196.7 L733.1,194.8 L733.9,193.0 L734.8,191.1 L735.6,189.3 L736.4,187.5 L737.3,185.7 L738.1,183.9 L738.8,182.1 L739.5,180.2 L740.2,178.4 L740.8,176.5 L741.4,174.6 L742.0,172.7 L742.6,170.8 L743.3,168.9 L744.0,167.0 L744.8,165.2 L745.7,163.4 L746.5,161.6 L747.5,159.8 L748.4,158.0 L749.3,156.3 L750.2,154.5 L751.1,152.7 L751.9,150.9 L752.6,149.1 L753.4,147.2 L754.1,145.4 L754.8,143.5 L755.6,141.6 L756.3,139.8 L757.1,137.9 L757.9,136.1 L758.6,134.2 L759.4,132.4 L760.2,130.6 L760.9,128.7 L761.6,126.9 L762.3,125.0 L763.0,123.1 L763.6,121.2 L764.3,119.4 L764.9,117.5 L765.5,115.6 L766.2,113.7 L766.8,111.8 L767.4,109.9 L768.1,108.0 L768.9,106.2 L769.6,104.3 L770.3,102.5 L771.1,100.6 L771.8,98.8 L772.6,96.9 L773.4,95.1 L774.2,93.2 L774.9,91.4 L775.7,89.5 L776.5,87.7 L777.3,85.9 L778.1,84.0 L778.9,82.2 L779.7,80.4 L780.6,78.6 L781.4,76.8 L782.3,75.0 L783.1,73.2 L784.0,71.4 L784.9,69.6 L785.9,67.8 L786.9,66.1 L788.0,64.4 L789.1,62.8 L790.3,61.2 L791.5,59.6 L792.7,58.1 L794.0,56.5 L795.2,55.0 L796.4,53.4 L797.6,51.8 L798.8,50.2 L800.1,48.6 L801.3,47.1 L802.7,45.7 L804.1,44.3 L805.5,42.9 L807.0,41.6 L808.6,40.4 L810.2,39.2 L811.8,38.0 L813.4,36.9 L815.1,35.8 L816.8,34.8 L818.6,33.8 L820.3,32.9 L822.1,32.0 L823.9,31.2 L825.8,30.5 L827.6,29.8 L829.5,29.2 L831.4,28.6 L833.4,28.1 L835.3,27.7 L837.3,27.2 L839.2,26.9 L841.2,26.5 L843.2,26.2 L845.1,26.0 L847.1,25.7 L849.1,25.5 L851.1,25.3 L853.1,25.1 L855.1,24.9 L857.1,24.8 L859.1,24.7 L861.1,24.6 L863.1,24.5 L865.1,24.4 L867.1,24.3 L869.1,24.2 L871.1,24.2 L873.1,24.1 L875.1,24.1 L877.1,24.0 L879.1,24.0 L881.1,24.0 L883.1,24.0 L885.1,24.0 L887.1,24.0 L889.1,24.0 L891.1,24.0 L893.1,24.0 L895.1,24.0 L897.1,24.0 L899.1,24.0 L901.1,24.0 L903.1,24.0 L905.1,24.0 L907.1,24.0 L909.1,24.0 L911.1,24.0 L913.1,24.0 L915.1,23.9 L917.1,23.9 L919.1,23.9 L921.1,23.9 L923.1,23.9 L925.1,23.9 L927.1,23.9 L929.1,23.9 L931.1,23.9 L933.1,23.9 L935.1,23.9 L937.1,23.9 L939.1,23.9 L941.1,23.9 L943.1,23.9 L945.1,23.9 L947.1,23.9 L949.1,23.9 L951.1,23.9 L953.1,23.9 L955.1,23.9 L957.1,23.9 L959.1,23.9 L961.1,23.9 L963.1,23.9 L965.1,23.9 L967.1,23.9 L969.1,23.9 L971.1,23.9 L973.1,23.9 L975.1,23.9 L977.1,23.9 L979.1,23.9 L981.1,23.9 L983.0,23.9 L985.0,23.9 L987.0,23.9 L988.8,23.9 L990.7,23.9 L992.4,23.9 L993.2,23.9"/>
<path d="M147.6,584.8 L149.6,584.8 L151.6,584.8 L153.6,584.8 L155.6,584.8 L157.6,584.8 L159.6,584.8 L161.6,584.8 L163.6,584.8 L165.6,584.8 L167.6,584.8 L169.6,584.8 L171.6,584.8 L173.6,584.8 L175.6,584.8 L177.6,584.8 L179.6,584.8 L181.6,584.8 L183.6,584.8 L185.6,584.8 L187.6,584.8 L189.6,584.8 L191.6,584.8 L193.6,584.8 L195.6,584.8 L197.6,584.8 L199.6,584.8 L201.6,584.8 L203.6,584.8 L205.6,584.8 L207.6,584.8 L209.6,584.8 L211.6,584.8 L213.6,584.8 L215.6,584.8 L217.6,584.8 L219.6,584.8 L221.6,584.8 L223.6,584.8 L225.6,584.7 L227.6,584.7 L229.6,584.7 L231.6,584.7 L233.6,584.7 L235.6,584.7 L237.6,584.7 L239.6,584.7 L241.6,584.7 L243.6,584.7 L245.6,584.7 L247.6,584.7 L249.6,584.7 L251.6,584.7 L253.6,584.7 L255.6,584.7 L257.6,584.7 L259.6,584.7 L261.6,584.7 L263.6,584.7 L265.6,584.7 L267.6,584.7 L269.6,584.7 L271.6,584.7 L273.6,584.7 L275.6,584.7 L277.6,584.7 L279.6,584.7 L281.6,584.7 L283.6,584.7 L285.6,584.7 L287.6,584.7 L289.6,584.7 L291.6,584.7 L293.6,584.7 L295.6,584.7 L297.6,584.7 L299.6,584.7 L301.6,584.7 L303.6,584.7 L305.6,584.6 L307.6,584.6 L309.6,584.6 L311.6,584.6 L313.6,584.6 L315.6,584.5 L317.6,584.5 L319.6,584.5 L321.6,584.5 L323.6,584.5 L325.6,584.4 L327.6,584.4 L329.6,584.4 L331.6,584.4 L333.6,584.4 L335.6,584.3 L337.6,584.3 L339.6,584.3 L341.6,584.2 L343.6,584.2 L345.6,584.2 L347.6,584.1 L349.6,584.1 L351.6,584.0 L353.6,584.0 L355.6,583.9 L357.6,583.9 L359.6,583.8 L361.6,583.8 L363.6,583.7 L365.6,583.7 L367.6,583.6 L369.6,583.6 L371.6,583.5 L373.6,583.4 L375.6,583.3 L377.6,583.2 L379.6,583.1 L381.6,583.0 L383.6,583.0 L385.6,582.9 L387.6,582.8 L389.6,582.7 L391.6,582.6 L393.6,582.5 L395.6,582.4 L397.6,582.2 L399.6,582.1 L401.5,581.9 L403.5,581.8 L405.5,581.6 L407.5,581.4 L409.5,581.3 L411.5,581.1 L413.5,580.8 L415.5,580.6 L417.5,580.4 L419.5,580.1 L421.4,579.9 L423.4,579.6 L425.4,579.4 L427.4,579.1 L429.4,578.9 L431.4,578.6 L433.4,578.3 L435.3,577.9 L437.3,577.6 L439.3,577.2 L441.2,576.8 L443.2,576.5 L445.2,576.1 L447.2,575.7 L449.1,575.2 L451.1,574.8 L453.0,574.3 L455.0,573.8 L456.9,573.4 L458.9,572.9 L460.8,572.4 L462.7,572.0 L464.7,571.5 L466.6,571.1 L468.6,570.6 L470.5,570.1 L472.5,569.7 L474.4,569.2 L476.4,568.7 L478.3,568.2 L480.3,567.7 L482.2,567.1 L484.2,566.5 L486.1,565.9 L488.0,565.2 L489.9,564.5 L491.8,563.8 L493.7,563.1 L495.5,562.3 L497.4,561.5 L499.2,560.7 L501.1,560.0 L502.9,559.2 L504.8,558.5 L506.6,557.7 L508.5,557.0 L510.3,556.2 L512.2,555.4 L514.0,554.6 L515.9,553.8 L517.7,552.9 L519.5,552.1 L521.4,551.2 L523.2,550.4 L525.0,549.5 L526.8,548.6 L528.6,547.7 L530.4,546.7 L532.2,545.7 L533.9,544.6 L535.7,543.5 L537.3,542.4 L539.0,541.3 L540.7,540.2 L542.3,539.1 L544.0,537.9 L545.6,536.8 L547.3,535.7 L549.0,534.6 L550.7,533.4 L552.3,532.2 L553.9,531.0 L555.5,529.8 L557.1,528.6 L558.7,527.3 L560.3,526.1 L561.8,524.8 L563.4,523.6 L565.0,522.3 L566.5,521.0 L568.1,519.8 L569.6,518.5 L571.2,517.2 L572.7,515.9 L574.3,514.6 L575.8,513.3 L577.3,511.9 L578.8,510.5 L580.3,509.1 L581.7,507.7 L583.2,506.3 L584.6,504.8 L585.9,503.3 L587.3,501.8 L588.6,500.3 L590.0,498.8 L591.3,497.2 L592.6,495.7 L593.9,494.1 L595.1,492.6 L596.4,491.0 L597.6,489.4 L598.9,487.8 L600.1,486.2 L601.3,484.6 L602.5,483.0 L603.7,481.4 L604.9,479.7 L606.0,478.1 L607.2,476.4 L608.3,474.8 L609.4,473.1 L610.6,471.5 L611.7,469.9 L612.9,468.4 L614.1,466.8 L615.3,465.3 L616.6,463.7 L617.8,462.1 L619.1,460.5 L620.2,458.8 L621.4,457.2 L622.5,455.5 L623.6,453.8 L624.6,452.1 L625.7,450.4 L626.8,448.7 L627.8,447.0 L628.9,445.3 L629.9,443.5 L630.9,441.8 L631.9,440.0 L632.9,438.3 L633.9,436.5 L634.8,434.7 L635.7,432.9 L636.7,431.1 L637.6,429.3 L638.5,427.5 L639.3,425.7 L640.2,423.9 L641.0,422.0 L641.8,420.2 L642.6,418.3 L643.4,416.5 L644.1,414.7 L644.9,412.8 L645.8,411.0 L646.6,409.2 L647.4,407.4 L648.3,405.7 L649.2,403.9 L650.2,402.1 L651.1,400.4 L652.1,398.6 L653.1,396.9 L654.0,395.1 L655.0,393.3 L655.9,391.6 L656.8,389.8 L657.7,388.0 L658.6,386.2 L659.4,384.4 L660.4,382.6 L661.3,380.8 L662.2,379.1 L663.1,377.3 L663.9,375.4 L664.8,373.6 L665.5,371.7 L666.3,369.8 L666.9,367.9 L667.6,366.0 L668.2,364.1 L668.8,362.2 L669.4,360.4 L670.1,358.6 L670.9,356.7 L671.7,354.9 L672.5,353.1 L673.4,351.4 L674.2,349.6 L675.1,347.8 L676.0,346.0 L676.9,344.2 L677.8,342.4 L678.7,340.7 L679.6,338.9 L680.5,337.1 L681.4,335.3 L682.3,333.5 L683.2,331.7 L684.0,329.8 L684.9,328.0 L685.7,326.2 L686.5,324.3 L687.2,322.5 L688.0,320.6 L688.8,318.8 L689.5,316.9 L690.2,315.0 L690.9,313.1 L691.5,311.2 L692.2,309.3 L692.8,307.4 L693.3,305.4 L693.9,303.6 L694.6,301.7 L695.2,299.8 L696.0,298.0 L696.7,296.2 L697.5,294.4 L698.4,292.6 L699.2,290.8 L700.1,289.1 L701.0,287.3 L701.9,285.5 L702.8,283.7 L703.7,281.9 L704.5,280.0 L705.3,278.1 L706.0,276.2 L706.6,274.3 L707.3,272.4 L707.9,270.5 L708.4,268.6 L709.0,266.7 L709.6,264.8 L710.3,263.0 L711.0,261.1 L711.8,259.3 L712.6,257.5 L713.4,255.7 L714.2,253.9 L715.0,252.1 L715.9,250.2 L716.6,248.3 L717.3,246.4 L718.0,244.5 L718.6,242.6 L719.2,240.6 L719.7,238.7 L720.2,236.8 L720.7,234.8 L721.3,232.9 L721.8,231.0 L722.4,229.1 L723.0,227.3 L723.6,225.4 L724.3,223.5 L725.0,221.7 L725.7,219.8 L726.4,218.0 L727.2,216.1 L727.9,214.3 L728.6,212.4 L729.4,210.5 L730.1,208.7 L730.8,206.8 L731.4,204.9 L732.1,203.0 L732.8,201.1 L733.5,199.2 L734.2,197.4 L734.9,195.5 L735.6,193.7 L736.4,191.9 L737.2,190.0 L738.0,188.2 L738.7,186.3 L739.5,184.5 L740.2,182.6 L740.9,180.7 L741.5,178.8 L742.1,176.9 L742.6,174.9 L743.1,173.0 L743.7,171.1 L744.3,169.3 L745.0,167.4 L745.7,165.6 L746.6,163.8 L747.5,162.1 L748.4,160.3 L749.4,158.5 L750.3,156.8 L751.2,155.0 L752.1,153.2 L753.0,151.4 L753.8,149.5 L754.5,147.7 L755.3,145.8 L756.0,144.0 L756.8,142.1 L757.6,140.3 L758.3,138.5 L759.1,136.6 L759.9,134.8 L760.7,133.0 L761.5,131.1 L762.3,129.3 L763.1,127.5 L763.9,125.6 L764.7,123.8 L765.6,122.1 L766.4,120.3 L767.3,118.5 L768.2,116.8 L769.2,115.0 L770.2,113.3 L771.1,111.5 L772.1,109.8 L773.1,108.0 L774.1,106.3 L775.1,104.6 L776.2,102.9 L777.2,101.2 L778.2,99.5 L779.3,97.7 L780.2,96.0 L781.2,94.2 L782.1,92.5 L783.0,90.7 L783.9,88.9 L784.7,87.1 L785.5,85.2 L786.4,83.4 L787.2,81.6 L788.1,79.8 L789.0,78.1 L790.0,76.4 L791.1,74.7 L792.3,73.1 L793.4,71.5 L794.6,69.9 L795.9,68.3 L797.1,66.7 L798.3,65.1 L799.4,63.5 L800.6,61.9 L801.8,60.3 L803.0,58.7 L804.2,57.1 L805.4,55.5 L806.7,54.0 L808.0,52.5 L809.4,51.0 L810.8,49.6 L812.2,48.2 L813.7,46.9 L815.2,45.6 L816.8,44.4 L818.4,43.2 L819.9,42.0 L821.6,40.8 L823.2,39.6 L824.8,38.4 L826.4,37.3 L828.0,36.2 L829.8,35.2 L831.5,34.3 L833.3,33.6 L835.2,32.9 L837.1,32.2 L839.0,31.7 L840.9,31.2 L842.8,30.7 L844.8,30.2 L846.7,29.7 L848.7,29.3 L850.6,28.9 L852.6,28.5 L854.6,28.1 L856.5,27.8 L858.5,27.4 L860.5,27.1 L862.5,26.8 L864.4,26.6 L866.4,26.4 L868.4,26.2 L870.4,26.0 L872.4,25.8 L874.4,25.6 L876.4,25.4 L878.4,25.3 L880.4,25.1 L882.4,25.0 L884.4,24.9 L886.3,24.8 L888.3,24.8 L890.3,24.7 L892.3,24.7 L894.3,24.6 L896.3,24.6 L898.3,24.5 L900.3,24.5 L902.3,24.4 L904.3,24.4 L906.3,24.3 L908.3,24.3 L910.3,24.2 L912.3,24.2 L914.3,24.2 L916.3,24.2 L918.3,24.2 L920.3,24.2 L922.3,24.1 L924.3,24.1 L926.3,24.1 L928.3,24.1 L930.3,24.1 L932.3,24.1 L934.3,24.1 L936.3,24.1 L938.3,24.1 L940.3,24.1 L942.3,24.1 L944.3,24.1 L946.3,24.0 L948.3,24.0 L950.3,24.0 L952.3,24.0 L954.3,24.0 L956.3,24.0 L958.3,24.0 L960.3,24.0 L962.3,24.0 L964.3,24.0 L966.3,24.0 L968.3,24.0 L970.3,23.9 L972.3,23.9 L974.3,23.9 L976.3,23.9 L978.3,23.9 L980.3,23.9 L982.3,23.9 L984.3,23.9 L986.2,23.9 L988.1,23.9 L989.8,23.9 L991.4,23.9 L992.7,23.9 L992.7,23.9"/>
<path d="M147.6,584.8 L149.6,584.8 L151.6,584.8 L153.6,584.8 L155.6,584.8 L157.6,584.8 L159.6,584.8 L161.6,584.8 L163.6,584.8 L165.6,584.7 L167.6,584.7 L169.6,584.7 L171.6,584.7 L173.6,584.7 L175.6,584.7 L177.6,584.7 L179.6,584.7 L181.6,584.7 L183.6,584.7 L185.6,584.7 L187.6,584.7 L189.6,584.7 L191.6,584.7 L193.6,584.7 L195.6,584.7 L197.6,584.7 L199.6,584.6 L201.6,584.6 L203.6,584.6 L205.6,584.6 L207.6,584.6 L209.6,584.6 L211.6,584.6 L213.6,584.6 L215.6,584.6 L217.6,584.6 L219.6,584.6 L221.6,584.6 L223.6,584.6 L225.6,584.6 L227.6,584.6 L229.6,584.6 L231.6,584.6 L233.6,584.5 L235.6,584.5 L237.6,584.5 L239.6,584.5 L241.6,584.5 L243.6,584.5 L245.6,584.5 L247.6,584.5 L249.6,584.4 L251.6,584.4 L253.6,584.3 L255.6,584.3 L257.6,584.2 L259.6,584.1 L261.6,584.1 L263.6,584.0 L265.6,583.9 L267.6,583.8 L269.6,583.8 L271.6,583.7 L273.6,583.7 L275.6,583.6 L277.6,583.6 L279.6,583.5 L281.6,583.5 L283.6,583.4 L285.6,583.4 L287.6,583.3 L289.6,583.3 L291.6,583.2 L293.6,583.2 L295.6,583.1 L297.6,583.1 L299.6,583.0 L301.6,582.9 L303.6,582.9 L305.6,582.8 L307.6,582.7 L309.6,582.7 L311.6,582.6 L313.6,582.5 L315.6,582.5 L317.6,582.4 L319.6,582.3 L321.6,582.3 L323.6,582.2 L325.6,582.2 L327.6,582.1 L329.6,582.1 L331.6,582.0 L333.6,582.0 L335.6,581.9 L337.6,581.8 L339.6,581.7 L341.6,581.6 L343.5,581.5 L345.5,581.4 L347.5,581.3 L349.5,581.2 L351.5,581.0 L353.5,580.9 L355.5,580.8 L357.5,580.7 L359.5,580.6 L361.5,580.5 L363.5,580.4 L365.5,580.3 L367.5,580.2 L369.5,580.1 L371.5,579.9 L373.5,579.8 L375.5,579.6 L377.5,579.4 L379.5,579.2 L381.5,579.0 L383.4,578.8 L385.4,578.6 L387.4,578.4 L389.4,578.2 L391.4,578.0 L393.4,577.8 L395.4,577.6 L397.4,577.4 L399.3,577.1 L401.3,576.8 L403.3,576.5 L405.3,576.2 L407.2,575.8 L409.2,575.3 L411.1,574.9 L413.1,574.4 L415.0,574.0 L416.9,573.5 L418.9,573.0 L420.8,572.4 L422.7,571.9 L424.7,571.3 L426.6,570.8 L428.5,570.2 L430.4,569.7 L432.3,569.1 L434.2,568.5 L436.2,567.9 L438.1,567.3 L440.0,566.8 L441.9,566.2 L443.8,565.6 L445.7,564.9 L447.6,564.3 L449.5,563.6 L451.3,562.9 L453.2,562.2 L455.0,561.4 L456.9,560.6 L458.7,559.8 L460.5,559.0 L462.3,558.1 L464.1,557.3 L465.9,556.4 L467.7,555.5 L469.5,554.6 L471.2,553.6 L472.9,552.6 L474.6,551.5 L476.3,550.4 L477.9,549.2 L479.4,548.0 L481.0,546.8 L482.6,545.6 L484.2,544.4 L485.8,543.2 L487.4,542.0 L489.0,540.8 L490.6,539.6 L492.2,538.4 L493.8,537.2 L495.4,536.0 L497.0,534.8 L498.6,533.6 L500.1,532.3 L501.7,531.0 L503.2,529.7 L504.7,528.4 L506.2,527.1 L507.7,525.8 L509.2,524.5 L510.7,523.2 L512.1,521.8 L513.5,520.4 L514.8,518.9 L516.1,517.4 L517.4,515.9 L518.7,514.4 L520.1,513.0 L521.5,511.7 L523.0,510.4 L524.5,509.1 L525.9,507.8 L527.3,506.4 L528.5,505.0 L529.7,503.4 L530.9,501.9 L532.0,500.3 L533.2,498.7 L534.5,497.2 L535.7,495.6 L537.1,494.1 L538.4,492.7 L539.8,491.2 L541.2,489.8 L542.6,488.4 L544.0,487.0 L545.4,485.6 L546.8,484.1 L548.1,482.7 L549.3,481.1 L550.5,479.6 L551.6,477.9 L552.7,476.3 L553.8,474.6 L554.9,472.9 L556.0,471.3 L557.2,469.7 L558.3,468.1 L559.4,466.4 L560.4,464.7 L561.4,463.0 L562.4,461.3 L563.3,459.6 L564.3,457.8 L565.3,456.1 L566.4,454.4 L567.4,452.7 L568.5,451.0 L569.6,449.3 L570.6,447.7 L571.7,446.0 L572.8,444.3 L573.9,442.6 L575.0,441.0 L576.1,439.3 L577.2,437.7 L578.3,436.0 L579.4,434.3 L580.4,432.6 L581.4,430.9 L582.3,429.1 L583.1,427.3 L583.9,425.5 L584.7,423.6 L585.4,421.8 L586.2,419.9 L587.0,418.1 L587.8,416.3 L588.7,414.5 L589.6,412.7 L590.6,411.0 L591.5,409.2 L592.5,407.5 L593.6,405.8 L594.6,404.1 L595.7,402.4 L596.8,400.7 L597.9,399.1 L599.0,397.4 L600.1,395.7 L601.3,394.1 L602.3,392.4 L603.4,390.7 L604.5,389.1 L605.7,387.4 L606.8,385.8 L608.0,384.2 L609.1,382.6 L610.3,381.0 L611.4,379.3 L612.3,377.6 L613.2,375.9 L614.1,374.1 L614.8,372.2 L615.5,370.4 L616.2,368.5 L616.9,366.6 L617.5,364.7 L618.2,362.9 L619.0,361.1 L619.8,359.3 L620.8,357.6 L621.8,355.9 L622.9,354.2 L624.0,352.5 L625.1,350.9 L626.2,349.2 L627.2,347.5 L628.3,345.8 L629.3,344.1 L630.3,342.4 L631.2,340.6 L632.1,338.8 L632.9,337.0 L633.6,335.1 L634.3,333.3 L635.0,331.4 L635.7,329.5 L636.4,327.7 L637.1,325.8 L637.9,323.9 L638.6,322.1 L639.5,320.3 L640.3,318.5 L641.3,316.7 L642.2,315.0 L643.2,313.3 L644.2,311.5 L645.2,309.8 L646.2,308.0 L647.1,306.3 L648.0,304.5 L648.9,302.7 L649.8,300.9 L650.6,299.1 L651.4,297.3 L652.2,295.5 L653.1,293.7 L653.9,291.9 L654.8,290.1 L655.8,288.3 L656.7,286.5 L657.6,284.8 L658.6,283.0 L659.6,281.3 L660.6,279.5 L661.6,277.8 L662.6,276.1 L663.6,274.4 L664.6,272.7 L665.7,271.0 L666.8,269.3 L667.8,267.6 L668.9,265.9 L669.9,264.2 L670.8,262.4 L671.8,260.7 L672.6,258.9 L673.5,257.1 L674.4,255.3 L675.4,253.6 L676.3,251.8 L677.3,250.1 L678.3,248.4 L679.3,246.7 L680.3,244.9 L681.3,243.2 L682.1,241.4 L683.0,239.6 L683.8,237.8 L684.5,235.9 L685.3,234.1 L686.1,232.2 L686.8,230.4 L687.6,228.5 L688.4,226.7 L689.3,224.9 L690.2,223.2 L691.2,221.4 L692.2,219.7 L693.2,218.0 L694.3,216.3 L695.3,214.6 L696.3,212.9 L697.3,211.2 L698.2,209.4 L699.1,207.6 L699.9,205.8 L700.6,203.9 L701.3,202.1 L701.9,200.2 L702.5,198.3 L703.2,196.4 L704.0,194.6 L704.8,192.8 L705.7,191.0 L706.7,189.3 L707.7,187.6 L708.8,185.9 L709.9,184.3 L711.0,182.6 L712.1,180.9 L713.1,179.2 L714.0,177.5 L715.0,175.7 L715.9,174.0 L716.8,172.2 L717.7,170.4 L718.6,168.6 L719.6,166.9 L720.5,165.1 L721.4,163.3 L722.3,161.5 L723.2,159.8 L724.1,158.0 L725.1,156.2 L726.1,154.5 L727.1,152.8 L728.1,151.1 L729.2,149.4 L730.2,147.7 L731.3,146.0 L732.3,144.3 L733.4,142.6 L734.4,140.8 L735.3,139.1 L736.2,137.3 L737.0,135.5 L737.9,133.7 L738.8,132.0 L739.8,130.2 L740.8,128.5 L741.8,126.8 L743.0,125.2 L744.1,123.5 L745.2,121.9 L746.3,120.2 L747.4,118.5 L748.4,116.8 L749.4,115.1 L750.4,113.4 L751.4,111.6 L752.4,109.9 L753.4,108.2 L754.4,106.4 L755.4,104.7 L756.5,103.0 L757.6,101.4 L758.7,99.7 L759.9,98.1 L761.0,96.5 L762.2,94.9 L763.3,93.2 L764.5,91.6 L765.6,89.9 L766.7,88.2 L767.8,86.6 L768.9,84.9 L770.0,83.3 L771.2,81.7 L772.4,80.1 L773.6,78.5 L774.8,77.0 L776.0,75.4 L777.2,73.8 L778.2,72.1 L779.3,70.4 L780.3,68.7 L781.4,67.0 L782.5,65.4 L783.7,63.8 L784.9,62.2 L786.2,60.7 L787.5,59.2 L788.8,57.7 L790.0,56.2 L791.3,54.6 L792.5,53.0 L793.6,51.4 L794.8,49.8 L795.9,48.1 L797.1,46.5 L798.3,44.9 L799.5,43.3 L800.7,41.8 L802.0,40.2 L803.3,38.7 L804.7,37.3 L806.1,35.9 L807.6,34.6 L809.2,33.4 L810.8,32.2 L812.4,31.2 L814.1,30.2 L815.9,29.2 L817.7,28.4 L819.5,27.6 L821.4,27.0 L823.3,26.4 L825.2,25.9 L827.2,25.5 L829.1,25.2 L831.1,24.9 L833.1,24.6 L835.1,24.5 L837.0,24.3 L839.0,24.2 L841.0,24.1 L843.0,24.1 L845.0,24.0 L847.0,24.0 L849.0,24.0 L851.0,23.9 L853.0,23.9 L855.0,23.9 L857.0,23.9 L859.0,23.9 L861.0,23.9 L863.0,23.9 L865.0,23.9 L867.0,23.9 L869.0,23.9 L871.0,23.9 L873.0,23.9 L875.0,23.9 L877.0,23.9 L879.0,23.9 L881.0,23.9 L883.0,23.9 L885.0,23.9 L887.0,23.9 L889.0,23.9 L891.0,23.9 L893.0,23.9 L895.0,23.9 L897.0,23.9 L899.0,23.9 L901.0,23.9 L903.0,23.9 L905.0,23.9 L907.0,23.9 L909.0,23.9 L911.0,23.9 L913.0,23.9 L915.0,23.9 L917.0,23.9 L919.0,23.9 L921.0,23.9 L923.0,23.9 L925.0,23.9 L927.0,23.9 L929.0,23.9 L931.0,23.9 L933.0,23.9 L935.0,23.9 L937.0,23.9 L939.0,23.9 L941.0,23.9 L943.0,23.9 L945.0,23.9 L947.0,23.9 L949.0,23.9 L951.0,23.9 L953.0,23.9 L955.0,23.9 L957.0,23.9 L959.0,23.9 L961.0,23.9 L963.0,23.9 L965.0,23.9 L967.0,23.9 L969.0,23.9 L971.0,23.9 L973.0,23.9 L975.0,23.9 L977.0,23.9 L979.0,23.9 L981.0,23.9 L983.0,23.9 L985.0,23.9 L986.9,23.9 L988.8,23.9 L990.7,23.9 L992.4,23.9 L993.2,23.9"/>
<path d="M147.6,584.8 L149.6,584.7 L151.6,584.7 L153.6,584.6 L155.6,584.6 L157.6,584.5 L159.6,584.4 L161.6,584.4 L163.6,584.3 L165.6,584.2 L167.6,584.2 L169.6,584.1 L171.6,584.1 L173.6,584.0 L175.6,583.9 L177.6,583.9 L179.6,583.8 L181.6,583.8 L183.6,583.7 L185.6,583.7 L187.6,583.6 L189.6,583.6 L191.6,583.6 L193.6,583.5 L195.6,583.5 L197.6,583.4 L199.6,583.4 L201.6,583.4 L203.6,583.3 L205.6,583.3 L207.6,583.2 L209.6,583.2 L211.6,583.2 L213.6,583.1 L215.6,583.1 L217.6,583.0 L219.6,583.0 L221.6,582.9 L223.6,582.8 L225.6,582.8 L227.6,582.7 L229.6,582.6 L231.6,582.5 L233.6,582.4 L235.6,582.3 L237.6,582.2 L239.6,582.1 L241.6,582.1 L243.6,582.0 L245.6,581.9 L247.5,581.7 L249.5,581.6 L251.5,581.5 L253.5,581.4 L255.5,581.3 L257.5,581.2 L259.5,581.1 L261.5,581.0 L263.5,580.8 L265.5,580.7 L267.5,580.6 L269.5,580.5 L271.5,580.3 L273.5,580.2 L275.5,580.0 L277.5,579.8 L279.5,579.7 L281.5,579.5 L283.5,579.4 L285.5,579.2 L287.5,579.1 L289.4,578.9 L291.4,578.7 L293.4,578.6 L295.4,578.4 L297.4,578.2 L299.4,578.1 L301.4,577.9 L303.4,577.7 L305.4,577.5 L307.4,577.3 L309.4,577.1 L311.4,576.9 L313.3,576.7 L315.3,576.5 L317.3,576.4 L319.3,576.2 L321.3,576.0 L323.3,575.9 L325.3,575.8 L327.3,575.7 L329.3,575.5 L331.3,575.3 L333.3,575.1 L335.3,574.8 L337.2,574.6 L339.2,574.4 L341.2,574.1 L343.2,573.9 L345.2,573.6 L347.2,573.4 L349.2,573.1 L351.1,572.9 L353.1,572.6 L355.1,572.4 L357.1,572.1 L359.1,571.9 L361.1,571.7 L363.0,571.4 L365.0,571.2 L367.0,570.9 L369.0,570.6 L371.0,570.3 L373.0,570.0 L374.9,569.7 L376.9,569.4 L378.9,569.1 L380.9,568.8 L382.8,568.5 L384.8,568.2 L386.8,567.9 L388.8,567.6 L390.7,567.3 L392.7,566.9 L394.7,566.6 L396.7,566.3 L398.6,566.0 L400.6,565.8 L402.6,565.5 L404.6,565.3 L406.6,565.1 L408.6,564.9 L410.6,564.7 L412.6,564.5 L414.5,564.3 L416.5,564.1 L418.5,563.7 L420.5,563.3 L422.4,562.9 L424.4,562.4 L426.3,562.0 L428.2,561.5 L430.2,561.1 L432.1,560.6 L434.1,560.2 L436.1,559.8 L438.0,559.4 L440.0,558.9 L441.9,558.5 L443.9,558.1 L445.8,557.7 L447.8,557.2 L449.7,556.7 L451.6,556.1 L453.5,555.4 L455.3,554.7 L457.2,554.0 L459.1,553.3 L461.0,552.6 L462.9,552.0 L464.8,551.4 L466.7,550.8 L468.6,550.2 L470.5,549.6 L472.4,548.9 L474.3,548.3 L476.1,547.6 L478.0,546.8 L479.8,546.0 L481.7,545.2 L483.5,544.5 L485.4,543.8 L487.3,543.1 L489.1,542.4 L491.0,541.8 L492.9,541.1 L494.8,540.5 L496.7,539.9 L498.6,539.3 L500.5,538.6 L502.2,537.7 L503.9,536.6 L505.6,535.5 L507.3,534.5 L509.0,533.4 L510.7,532.4 L512.5,531.5 L514.3,530.6 L516.0,529.7 L517.8,528.8 L519.6,527.9 L521.4,526.9 L523.1,525.9 L524.8,524.9 L526.5,523.9 L528.3,522.9 L530.0,521.8 L531.7,520.8 L533.4,519.8 L535.1,518.8 L536.8,517.6 L538.4,516.5 L540.1,515.4 L541.7,514.2 L543.3,513.0 L545.0,511.9 L546.6,510.7 L548.1,509.5 L549.7,508.2 L551.2,506.9 L552.7,505.5 L554.1,504.1 L555.5,502.7 L557.0,501.4 L558.4,500.0 L559.9,498.7 L561.4,497.3 L562.9,496.0 L564.4,494.7 L565.9,493.4 L567.4,492.1 L569.0,490.8 L570.5,489.6 L572.2,488.6 L574.0,487.9 L575.8,487.1 L577.3,486.0 L578.6,484.6 L579.7,483.0 L580.8,481.4 L582.0,479.8 L583.2,478.2 L584.5,476.7 L585.9,475.2 L587.3,473.8 L588.7,472.3 L590.0,470.9 L591.2,469.3 L592.3,467.7 L593.4,466.0 L594.6,464.4 L595.8,462.9 L597.1,461.4 L598.4,459.8 L599.5,458.2 L600.6,456.5 L601.7,454.9 L602.9,453.3 L604.2,451.8 L605.4,450.2 L606.6,448.6 L607.6,446.9 L608.5,445.2 L609.5,443.4 L610.5,441.7 L611.6,440.0 L612.8,438.4 L614.0,436.9 L615.4,435.4 L616.6,433.9 L617.7,432.3 L618.5,430.5 L619.2,428.7 L619.9,426.9 L620.8,425.1 L621.8,423.4 L622.9,421.7 L624.2,420.2 L625.4,418.7 L626.6,417.1 L627.7,415.5 L628.6,413.7 L629.5,411.9 L630.4,410.1 L631.2,408.3 L632.0,406.5 L632.8,404.6 L633.5,402.8 L634.2,400.9 L635.1,399.1 L636.0,397.3 L637.0,395.6 L638.0,393.9 L638.9,392.1 L639.8,390.3 L640.6,388.5 L641.3,386.6 L642.1,384.8 L642.9,383.0 L643.8,381.2 L644.6,379.3 L645.5,377.6 L646.5,375.8 L647.5,374.1 L648.4,372.3 L649.4,370.6 L650.2,368.8 L650.9,366.9 L651.5,365.0 L652.2,363.1 L652.9,361.3 L653.7,359.4 L654.6,357.7 L655.6,355.9 L656.5,354.1 L657.4,352.3 L658.2,350.5 L659.0,348.7 L659.9,346.9 L660.7,345.1 L661.5,343.2 L662.3,341.4 L663.1,339.6 L663.8,337.7 L664.6,335.9 L665.3,334.0 L665.9,332.1 L666.5,330.2 L667.1,328.3 L667.7,326.4 L668.4,324.5 L669.2,322.7 L670.0,320.9 L671.0,319.1 L672.1,317.5 L673.2,315.8 L674.3,314.2 L675.2,312.4 L676.0,310.6 L676.5,308.7 L677.0,306.8 L677.6,304.9 L678.2,303.0 L679.0,301.2 L679.9,299.4 L680.8,297.6 L681.5,295.7 L682.1,293.9 L682.7,291.9 L683.3,290.0 L684.0,288.2 L684.7,286.3 L685.4,284.4 L686.2,282.6 L687.0,280.7 L687.7,278.9 L688.5,277.0 L689.2,275.2 L689.9,273.3 L690.6,271.4 L691.3,269.6 L691.9,267.7 L692.5,265.8 L693.2,263.9 L694.0,262.1 L694.9,260.3 L695.8,258.5 L696.7,256.7 L697.6,254.9 L698.4,253.1 L699.2,251.3 L700.1,249.4 L700.8,247.6 L701.6,245.7 L702.2,243.9 L702.9,242.0 L703.7,240.2 L704.7,238.4 L705.6,236.7 L706.5,234.9 L707.3,233.1 L708.1,231.2 L708.7,229.3 L709.4,227.4 L710.0,225.5 L710.6,223.6 L711.2,221.7 L712.0,219.9 L712.8,218.1 L713.7,216.3 L714.6,214.5 L715.3,212.7 L716.0,210.8 L716.6,208.9 L717.1,207.0 L717.7,205.1 L718.4,203.2 L719.0,201.3 L719.7,199.4 L720.5,197.6 L721.3,195.8 L722.3,194.0 L723.2,192.2 L724.1,190.5 L724.9,188.7 L725.7,186.8 L726.3,184.9 L726.9,183.0 L727.5,181.1 L728.1,179.2 L728.9,177.4 L729.7,175.5 L730.5,173.7 L731.3,171.9 L732.2,170.1 L733.1,168.3 L734.0,166.5 L735.0,164.8 L735.9,163.0 L736.6,161.1 L737.3,159.3 L737.9,157.4 L738.6,155.5 L739.3,153.6 L740.1,151.8 L741.0,150.0 L741.9,148.3 L742.9,146.5 L743.9,144.8 L744.9,143.0 L745.8,141.3 L746.6,139.4 L747.4,137.6 L748.2,135.8 L749.2,134.0 L750.2,132.3 L751.3,130.7 L752.4,129.0 L753.3,127.3 L754.2,125.4 L754.9,123.6 L755.7,121.8 L756.5,119.9 L757.4,118.1 L758.2,116.3 L759.1,114.5 L760.0,112.7 L760.9,110.9 L761.8,109.2 L762.9,107.5 L764.0,105.8 L765.1,104.1 L766.2,102.5 L767.2,100.8 L768.3,99.1 L769.3,97.3 L770.3,95.6 L771.3,93.9 L772.3,92.2 L773.3,90.4 L774.3,88.7 L775.4,87.0 L776.5,85.4 L777.8,83.8 L779.0,82.3 L780.3,80.8 L781.7,79.3 L783.0,77.8 L784.4,76.3 L785.6,74.8 L786.8,73.2 L788.0,71.6 L789.1,69.9 L790.3,68.3 L791.4,66.7 L792.6,65.1 L793.9,63.5 L795.1,61.9 L796.3,60.3 L797.6,58.8 L798.8,57.2 L800.1,55.7 L801.5,54.2 L802.9,52.8 L804.2,51.3 L805.7,49.9 L807.1,48.5 L808.6,47.2 L810.0,45.8 L811.5,44.5 L813.0,43.2 L814.6,41.9 L816.1,40.6 L817.7,39.5 L819.4,38.3 L821.0,37.2 L822.6,36.0 L824.3,35.0 L826.1,33.9 L827.8,33.0 L829.6,32.2 L831.5,31.6 L833.4,31.1 L835.4,30.6 L837.3,30.2 L839.3,29.8 L841.2,29.3 L843.2,29.0 L845.2,28.6 L847.1,28.3 L849.1,28.0 L851.1,27.6 L853.1,27.3 L855.0,27.0 L857.0,26.8 L859.0,26.5 L861.0,26.3 L863.0,26.1 L865.0,25.9 L867.0,25.7 L868.9,25.5 L870.9,25.4 L872.9,25.2 L874.9,25.1 L876.9,25.0 L878.9,24.9 L880.9,24.8 L882.9,24.7 L884.9,24.7 L886.9,24.6 L888.9,24.6 L890.9,24.5 L892.9,24.4 L894.9,24.4 L896.9,24.3 L898.9,24.2 L900.9,24.2 L902.9,24.2 L904.9,24.2 L906.9,24.2 L908.9,24.2 L910.9,24.2 L912.9,24.2 L914.9,24.1 L916.9,24.1 L918.9,24.1 L920.9,24.1 L922.9,24.1 L924.9,24.1 L926.9,24.1 L928.9,24.1 L930.9,24.1 L932.9,24.1 L934.9,24.1 L936.9,24.1 L938.9,24.1 L940.9,24.0 L942.9,24.0 L944.9,24.0 L946.9,24.0 L948.9,24.0 L950.9,24.0 L952.9,24.0 L954.9,24.0 L956.9,24.0 L958.9,24.0 L960.9,24.0 L962.9,24.0 L964.9,24.0 L966.9,24.0 L968.9,23.9 L970.9,23.9 L972.9,23.9 L974.9,23.9 L976.9,23.9 L978.9,23.9 L980.9,23.9 L982.9,23.9 L984.9,23.9 L986.9,23.9 L988.9,23.9 L990.9,23.9 L992.7,23.9 L993.6,23.9" stroke="#2e2e2e" stroke-width="2.9"/>
</g>
<g fill="#000"><text transform="translate(123.4,598.0) scale(0.97,1.03)" text-anchor="end" font-size="36" font-family="'Liberation Serif', serif">0</text><text transform="translate(123.4,457.7) scale(0.97,1.03)" text-anchor="end" font-size="36" font-family="'Liberation Serif', serif">25</text><text transform="translate(123.4,317.5) scale(0.97,1.03)" text-anchor="end" font-size="36" font-family="'Liberation Serif', serif">50</text><text transform="translate(123.4,177.2) scale(0.97,1.03)" text-anchor="end" font-size="36" font-family="'Liberation Serif', serif">75</text><text transform="translate(123.4,37.0) scale(0.97,1.03)" text-anchor="end" font-size="36" font-family="'Liberation Serif', serif">100</text><text transform="translate(151.3,650.5) scale(1.0,1.05)" text-anchor="middle" font-size="36" font-family="'Liberation Serif', serif">150</text><text transform="translate(291.4,650.5) scale(1.0,1.05)" text-anchor="middle" font-size="36" font-family="'Liberation Serif', serif">250</text><text transform="translate(431.4,650.5) scale(1.0,1.05)" text-anchor="middle" font-size="36" font-family="'Liberation Serif', serif">350</text><text transform="translate(571.5,650.5) scale(1.0,1.05)" text-anchor="middle" font-size="36" font-family="'Liberation Serif', serif">450</text><text transform="translate(711.5,650.5) scale(1.0,1.05)" text-anchor="middle" font-size="36" font-family="'Liberation Serif', serif">550</text><text transform="translate(851.5,650.5) scale(1.0,1.05)" text-anchor="middle" font-size="36" font-family="'Liberation Serif', serif">650</text><text transform="translate(991.6,650.5) scale(1.0,1.05)" text-anchor="middle" font-size="36" font-family="'Liberation Serif', serif">750</text><text x="580.2" y="687" text-anchor="middle" font-size="36" font-weight="bold" font-family="'Liberation Serif', serif">Temperature (<tspan font-size="23.5" dy="-14.2">o</tspan><tspan dy="14.2">C)</tspan></text><text transform="translate(38.4,302.3) rotate(-90)" x="0" y="0" text-anchor="middle" font-size="36.2" font-weight="bold" font-family="'Liberation Serif', serif">Soot conversion (%)</text><text transform="translate(397.4,153.9) scale(1,1.035)" font-size="29.3" font-family="'Liberation Serif', serif">MnAlT400</text><text transform="translate(396.4,239.7) scale(1,1.035)" font-size="29.3" font-family="'Liberation Serif', serif">Pt/Al<tspan font-size="18.5" dy="5.8">2</tspan><tspan dy="-5.8">O</tspan><tspan font-size="18.5" dy="5.8">3</tspan></text><text transform="translate(290.4,310) scale(1,1.035)" font-size="29.3" font-family="'Liberation Serif', serif">MnAl400W</text><text transform="translate(290.4,394) scale(1,1.035)" font-size="29.3" font-family="'Liberation Serif', serif">MnAlW600</text><text transform="translate(756.4,479.6) scale(1,1.035)" font-size="29.3" font-family="'Liberation Serif', serif">Without catalyst</text></g>
</svg>
</body></html>
